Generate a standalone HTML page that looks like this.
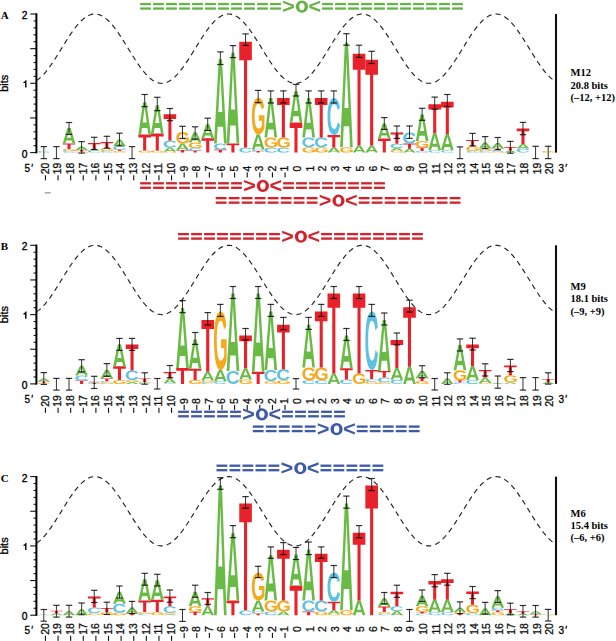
<!DOCTYPE html><html><head><meta charset="utf-8"><style>html,body{margin:0;padding:0;background:#fff;overflow:hidden}svg{display:block}</style></head><body>
<svg width="616" height="641" viewBox="0 0 616 641">
<defs>
<path id="gA" d="M787.5 1000 716.3 800H285.9L214.7 1000H0L374.1 0H627.4L1000 1000ZM500.7 154 496.4 169.6Q489.1 195.2 478.9 227.8Q468.7 260.5 340.8 625H661.6L547.3 299.5L516 203Z"/>
<path id="gC" d="M531 840Q730.4 840 808.1 655.2L1000 722.1Q938 862.8 818.1 931.4Q698.3 1000 531 1000Q277.1 1000 138.5 867.2Q0 734.5 0 495.9Q0 256.6 133.7 128.3Q267.4 0 521.3 0Q706.5 0 823 68.6Q939.5 137.2 986.6 270.3L792.4 319.3Q767.7 246.2 695.7 203.1Q623.6 160 525.8 160Q376.4 160 299.1 245.5Q221.8 331 221.8 495.9Q221.8 663.4 301.3 751.7Q380.9 840 531 840Z"/>
<path id="gG" d="M522.4 840.7Q605.6 840.7 683.8 817.6Q761.9 794.5 804.6 758.6V624.1H555.7V473.8H1000V831Q919 910.3 789.1 955.2Q659.2 1000 516.6 1000Q267.7 1000 133.9 868.6Q0 737.2 0 495.9Q0 255.9 134.6 127.9Q269.2 0 521.7 0Q880.6 0 978.3 253.1L781.5 309.7Q749.6 235.9 681.6 197.9Q613.6 160 521.7 160Q371.2 160 293.1 246.9Q214.9 333.8 214.9 495.9Q214.9 660.7 295.6 750.7Q376.3 840.7 522.4 840.7Z"/>
<path id="gT" d="M621.9 176V1000H377.3V176H0V0H1000V176Z"/>
<path id="gGT" d="M0 1000V794.4L810.1 500.9L0 206.5V0L1000 354.2V645.8Z"/><path id="gLT" d="M0 645.8V354.2L1000 0V206.5L188.9 500.9L1000 794.4V1000Z"/><path id="gO" d="M1000 495.9Q1000 647.6 938.9 762.8Q877.7 877.9 763.9 939Q650 1000 498.2 1000Q264.9 1000 132.5 865.2Q0 730.3 0 495.9Q0 262.1 132.1 131Q264.2 0 499.6 0Q735.1 0 867.5 132.4Q1000 264.8 1000 495.9ZM788.5 495.9Q788.5 338.6 712.6 249.3Q636.7 160 499.6 160Q360.5 160 284.6 248.6Q208.7 337.2 208.7 495.9Q208.7 655.9 286.4 747.9Q364 840 498.2 840Q637.4 840 712.9 750.3Q788.5 660.7 788.5 495.9Z"/>
</defs>
<text x="0.8" y="18.9" font-family="Liberation Serif, serif" font-weight="bold" font-size="11">A</text>
<g stroke="#111" stroke-width="1.1">
<line x1="30.2" y1="152.60" x2="37" y2="152.60"/>
<line x1="33.6" y1="145.67" x2="37" y2="145.67"/>
<line x1="33.6" y1="138.74" x2="37" y2="138.74"/>
<line x1="33.6" y1="131.81" x2="37" y2="131.81"/>
<line x1="33.6" y1="124.88" x2="37" y2="124.88"/>
<line x1="30.2" y1="117.95" x2="37" y2="117.95"/>
<line x1="33.6" y1="111.02" x2="37" y2="111.02"/>
<line x1="33.6" y1="104.09" x2="37" y2="104.09"/>
<line x1="33.6" y1="97.16" x2="37" y2="97.16"/>
<line x1="33.6" y1="90.23" x2="37" y2="90.23"/>
<line x1="30.2" y1="83.30" x2="37" y2="83.30"/>
<line x1="33.6" y1="76.37" x2="37" y2="76.37"/>
<line x1="33.6" y1="69.44" x2="37" y2="69.44"/>
<line x1="33.6" y1="62.51" x2="37" y2="62.51"/>
<line x1="33.6" y1="55.58" x2="37" y2="55.58"/>
<line x1="30.2" y1="48.65" x2="37" y2="48.65"/>
<line x1="33.6" y1="41.72" x2="37" y2="41.72"/>
<line x1="33.6" y1="34.79" x2="37" y2="34.79"/>
<line x1="33.6" y1="27.86" x2="37" y2="27.86"/>
<line x1="33.6" y1="20.93" x2="37" y2="20.93"/>
<line x1="30.2" y1="14.00" x2="37" y2="14.00"/>
</g>
<line x1="36.4" y1="13.40" x2="36.4" y2="153.20" stroke="#000" stroke-width="2"/>
<path d="M26.5,87.40V80.30H25.5Q25.1,81.90 23.4,82.10V83.10H25.1V87.40Z" fill="#000"/>
<text x="27.4" y="157.60" text-anchor="end" font-family="Liberation Sans, sans-serif" font-size="10.3" stroke="#000" stroke-width="0.35">0</text>
<text x="27.4" y="19.00" text-anchor="end" font-family="Liberation Sans, sans-serif" font-size="10.3" stroke="#000" stroke-width="0.35">2</text>
<text transform="translate(8.3,83.30) rotate(-90)" text-anchor="middle" font-family="Liberation Sans, sans-serif" font-size="11" stroke="#000" stroke-width="0.3">bits</text>
<polyline points="36.6,80.51 37.6,79.83 38.6,79.09 39.6,78.28 40.6,77.40 41.6,76.46 42.6,75.46 43.6,74.40 44.6,73.28 45.6,72.11 46.6,70.88 47.6,69.61 48.6,68.29 49.6,66.93 50.6,65.53 51.6,64.09 52.6,62.61 53.6,61.11 54.6,59.57 55.6,58.02 56.6,56.44 57.6,54.85 58.6,53.24 59.6,51.62 60.6,49.99 61.6,48.37 62.6,46.74 63.6,45.11 64.6,43.50 65.6,41.90 66.6,40.31 67.6,38.74 68.6,37.19 69.6,35.66 70.6,34.17 71.6,32.71 72.6,31.28 73.6,29.89 74.6,28.54 75.6,27.24 76.6,25.98 77.6,24.78 78.6,23.62 79.6,22.52 80.6,21.48 81.6,20.50 82.6,19.58 83.6,18.73 84.6,17.94 85.6,17.22 86.6,16.57 87.6,15.99 88.6,15.48 89.6,15.05 90.6,14.69 91.6,14.40 92.6,14.19 93.6,14.06 94.6,14.00 95.6,14.02 96.6,14.12 97.6,14.29 98.6,14.54 99.6,14.86 100.6,15.26 101.6,15.73 102.6,16.27 103.6,16.89 104.6,17.57 105.6,18.33 106.6,19.15 107.6,20.04 108.6,20.99 109.6,22.00 110.6,23.07 111.6,24.19 112.6,25.37 113.6,26.60 114.6,27.88 115.6,29.21 116.6,30.58 117.6,31.99 118.6,33.43 119.6,34.91 120.6,36.42 121.6,37.96 122.6,39.52 123.6,41.10 124.6,42.70 125.6,44.31 126.6,45.93 127.6,47.55 128.6,49.18 129.6,50.81 130.6,52.43 131.6,54.04 132.6,55.64 133.6,57.23 134.6,58.80 135.6,60.34 136.6,61.86 137.6,63.35 138.6,64.81 139.6,66.23 140.6,67.62 141.6,68.96 142.6,70.25 143.6,71.50 144.6,72.70 145.6,73.85 146.6,74.94 147.6,75.97 148.6,76.94 149.6,77.85 150.6,78.69 151.6,79.47 152.6,80.18 153.6,80.82 154.6,81.39 155.6,81.89 156.6,82.31 157.6,82.66 158.6,82.93 159.6,83.13 160.6,83.25 161.6,83.30 162.6,83.27 163.6,83.16 164.6,82.98 165.6,82.72 166.6,82.39 167.6,81.98 168.6,81.49 169.6,80.94 170.6,80.31 171.6,79.62 172.6,78.85 173.6,78.02 174.6,77.13 175.6,76.17 176.6,75.15 177.6,74.07 178.6,72.93 179.6,71.75 180.6,70.51 181.6,69.22 182.6,67.89 183.6,66.51 184.6,65.10 185.6,63.65 186.6,62.16 187.6,60.65 188.6,59.11 189.6,57.55 190.6,55.96 191.6,54.36 192.6,52.75 193.6,51.13 194.6,49.50 195.6,47.88 196.6,46.25 197.6,44.63 198.6,43.02 199.6,41.42 200.6,39.83 201.6,38.27 202.6,36.73 203.6,35.21 204.6,33.73 205.6,32.27 206.6,30.86 207.6,29.48 208.6,28.15 209.6,26.86 210.6,25.61 211.6,24.42 212.6,23.29 213.6,22.21 214.6,21.18 215.6,20.22 216.6,19.32 217.6,18.49 218.6,17.72 219.6,17.02 220.6,16.39 221.6,15.83 222.6,15.35 223.6,14.93 224.6,14.60 225.6,14.33 226.6,14.15 227.6,14.03 228.6,14.00 229.6,14.04 230.6,14.16 231.6,14.36 232.6,14.63 233.6,14.97 234.6,15.39 235.6,15.88 236.6,16.45 237.6,17.09 238.6,17.79 239.6,18.57 240.6,19.41 241.6,20.31 242.6,21.28 243.6,22.31 244.6,23.40 245.6,24.54 246.6,25.74 247.6,26.98 248.6,28.28 249.6,29.62 250.6,31.00 251.6,32.42 252.6,33.87 253.6,35.36 254.6,36.88 255.6,38.42 256.6,39.99 257.6,41.58 258.6,43.18 259.6,44.79 260.6,46.41 261.6,48.04 262.6,49.67 263.6,51.29 264.6,52.91 265.6,54.52 266.6,56.12 267.6,57.70 268.6,59.26 269.6,60.80 270.6,62.31 271.6,63.79 272.6,65.24 273.6,66.65 274.6,68.02 275.6,69.35 276.6,70.63 277.6,71.87 278.6,73.05 279.6,74.18 280.6,75.25 281.6,76.27 282.6,77.22 283.6,78.11 284.6,78.93 285.6,79.69 286.6,80.38 287.6,81.00 288.6,81.55 289.6,82.02 290.6,82.42 291.6,82.75 292.6,83.00 293.6,83.18 294.6,83.28 295.6,83.30 296.6,83.24 297.6,83.11 298.6,82.91 299.6,82.63 300.6,82.27 301.6,81.84 302.6,81.34 303.6,80.76 304.6,80.11 305.6,79.39 306.6,78.61 307.6,77.76 308.6,76.84 309.6,75.87 310.6,74.83 311.6,73.73 312.6,72.58 313.6,71.38 314.6,70.13 315.6,68.83 316.6,67.48 317.6,66.09 318.6,64.67 319.6,63.21 320.6,61.71 321.6,60.19 322.6,58.64 323.6,57.07 324.6,55.48 325.6,53.88 326.6,52.27 327.6,50.64 328.6,49.02 329.6,47.39 330.6,45.76 331.6,44.14 332.6,42.54 333.6,40.94 334.6,39.36 335.6,37.80 336.6,36.27 337.6,34.76 338.6,33.29 339.6,31.84 340.6,30.44 341.6,29.07 342.6,27.75 343.6,26.48 344.6,25.25 345.6,24.08 346.6,22.96 347.6,21.89 348.6,20.89 349.6,19.94 350.6,19.06 351.6,18.25 352.6,17.50 353.6,16.82 354.6,16.22 355.6,15.68 356.6,15.21 357.6,14.82 358.6,14.51 359.6,14.27 360.6,14.10 361.6,14.02 362.6,14.00 363.6,14.07 364.6,14.21 365.6,14.43 366.6,14.72 367.6,15.09 368.6,15.53 369.6,16.05 370.6,16.63 371.6,17.29 372.6,18.02 373.6,18.81 374.6,19.67 375.6,20.60 376.6,21.58 377.6,22.63 378.6,23.73 379.6,24.89 380.6,26.10 381.6,27.37 382.6,28.67 383.6,30.03 384.6,31.42 385.6,32.85 386.6,34.32 387.6,35.81 388.6,37.34 389.6,38.89 390.6,40.46 391.6,42.05 392.6,43.66 393.6,45.28 394.6,46.90 395.6,48.53 396.6,50.16 397.6,51.78 398.6,53.40 399.6,55.01 400.6,56.60 401.6,58.17 402.6,59.73 403.6,61.26 404.6,62.76 405.6,64.23 406.6,65.67 407.6,67.07 408.6,68.43 409.6,69.74 410.6,71.01 411.6,72.23 412.6,73.39 413.6,74.51 414.6,75.56 415.6,76.56 416.6,77.49 417.6,78.36 418.6,79.17 419.6,79.90 420.6,80.57 421.6,81.17 422.6,81.70 423.6,82.15 424.6,82.53 425.6,82.83 426.6,83.06 427.6,83.21 428.6,83.29 429.6,83.29 430.6,83.21 431.6,83.06 432.6,82.83 433.6,82.53 434.6,82.15 435.6,81.70 436.6,81.17 437.6,80.57 438.6,79.90 439.6,79.17 440.6,78.36 441.6,77.49 442.6,76.56 443.6,75.56 444.6,74.51 445.6,73.39 446.6,72.23 447.6,71.01 448.6,69.74 449.6,68.43 450.6,67.07 451.6,65.67 452.6,64.23 453.6,62.76 454.6,61.26 455.6,59.73 456.6,58.17 457.6,56.60 458.6,55.01 459.6,53.40 460.6,51.78 461.6,50.16 462.6,48.53 463.6,46.90 464.6,45.28 465.6,43.66 466.6,42.05 467.6,40.46 468.6,38.89 469.6,37.34 470.6,35.81 471.6,34.32 472.6,32.85 473.6,31.42 474.6,30.03 475.6,28.67 476.6,27.37 477.6,26.10 478.6,24.89 479.6,23.73 480.6,22.63 481.6,21.58 482.6,20.60 483.6,19.67 484.6,18.81 485.6,18.02 486.6,17.29 487.6,16.63 488.6,16.05 489.6,15.53 490.6,15.09 491.6,14.72 492.6,14.43 493.6,14.21 494.6,14.07 495.6,14.00 496.6,14.02 497.6,14.10 498.6,14.27 499.6,14.51 500.6,14.82 501.6,15.21 502.6,15.68 503.6,16.22 504.6,16.82 505.6,17.50 506.6,18.25 507.6,19.06 508.6,19.94 509.6,20.89 510.6,21.89 511.6,22.96 512.6,24.08 513.6,25.25 514.6,26.48 515.6,27.75 516.6,29.07 517.6,30.44 518.6,31.84 519.6,33.29 520.6,34.76 521.6,36.27 522.6,37.80 523.6,39.36 524.6,40.94 525.6,42.54 526.6,44.14 527.6,45.76 528.6,47.39 529.6,49.02 530.6,50.64 531.6,52.27 532.6,53.88 533.6,55.48 534.6,57.07 535.6,58.64 536.6,60.19 537.6,61.71 538.6,63.21 539.6,64.67 540.6,66.09 541.6,67.48 542.6,68.83 543.6,70.13 544.6,71.38 545.6,72.58 546.6,73.73 547.6,74.83 548.6,75.87 549.6,76.84 550.6,77.76 551.6,78.61 552.6,79.39 553.6,80.11 554.6,80.76 555.6,81.34" fill="none" stroke="#222" stroke-width="1.15" stroke-dasharray="5.2 4.1"/>
<use href="#gC" fill="#5fc1e2" transform="translate(37.50,151.10) scale(0.01260,0.00150)"/>
<use href="#gC" fill="#5fc1e2" transform="translate(62.72,151.10) scale(0.01260,0.00150)"/>
<use href="#gG" fill="#f5a91e" transform="translate(62.72,149.10) scale(0.01260,0.00200)"/>
<use href="#gT" fill="#e8222a" transform="translate(62.72,143.60) scale(0.01260,0.00550)"/>
<use href="#gA" fill="#69bb45" transform="translate(62.72,128.10) scale(0.01260,0.01550)"/>
<use href="#gG" fill="#f5a91e" transform="translate(75.33,151.60) scale(0.01260,0.00100)"/>
<use href="#gT" fill="#e8222a" transform="translate(75.33,150.10) scale(0.01260,0.00150)"/>
<use href="#gA" fill="#69bb45" transform="translate(75.33,146.60) scale(0.01260,0.00350)"/>
<use href="#gC" fill="#5fc1e2" transform="translate(87.94,150.60) scale(0.01260,0.00200)"/>
<use href="#gA" fill="#69bb45" transform="translate(87.94,149.10) scale(0.01260,0.00150)"/>
<use href="#gT" fill="#e8222a" transform="translate(87.94,143.10) scale(0.01260,0.00600)"/>
<use href="#gC" fill="#5fc1e2" transform="translate(100.55,151.10) scale(0.01260,0.00150)"/>
<use href="#gG" fill="#f5a91e" transform="translate(100.55,148.10) scale(0.01260,0.00300)"/>
<use href="#gT" fill="#e8222a" transform="translate(100.55,142.10) scale(0.01260,0.00600)"/>
<use href="#gG" fill="#f5a91e" transform="translate(113.16,151.10) scale(0.01260,0.00150)"/>
<use href="#gT" fill="#e8222a" transform="translate(113.16,149.60) scale(0.01260,0.00150)"/>
<use href="#gC" fill="#5fc1e2" transform="translate(113.16,146.10) scale(0.01260,0.00350)"/>
<use href="#gA" fill="#69bb45" transform="translate(113.16,139.60) scale(0.01260,0.00650)"/>
<use href="#gG" fill="#f5a91e" transform="translate(138.38,150.60) scale(0.01260,0.00200)"/>
<use href="#gT" fill="#e8222a" transform="translate(138.38,134.60) scale(0.01260,0.01600)"/>
<use href="#gA" fill="#69bb45" transform="translate(138.38,102.20) scale(0.01260,0.03240)"/>
<use href="#gG" fill="#f5a91e" transform="translate(150.99,150.60) scale(0.01260,0.00200)"/>
<use href="#gT" fill="#e8222a" transform="translate(150.99,133.60) scale(0.01260,0.01700)"/>
<use href="#gA" fill="#69bb45" transform="translate(150.99,105.20) scale(0.01260,0.02840)"/>
<use href="#gG" fill="#f5a91e" transform="translate(163.60,151.60) scale(0.01260,0.00100)"/>
<use href="#gA" fill="#69bb45" transform="translate(163.60,147.60) scale(0.01260,0.00400)"/>
<use href="#gC" fill="#5fc1e2" transform="translate(163.60,140.60) scale(0.01260,0.00700)"/>
<use href="#gT" fill="#e8222a" transform="translate(163.60,114.30) scale(0.01260,0.02630)"/>
<use href="#gT" fill="#e8222a" transform="translate(176.21,150.10) scale(0.01260,0.00250)"/>
<use href="#gA" fill="#69bb45" transform="translate(176.21,143.60) scale(0.01260,0.00650)"/>
<use href="#gG" fill="#f5a91e" transform="translate(176.21,132.10) scale(0.01260,0.01150)"/>
<use href="#gT" fill="#e8222a" transform="translate(188.82,150.60) scale(0.01260,0.00200)"/>
<use href="#gC" fill="#5fc1e2" transform="translate(188.82,148.10) scale(0.01260,0.00250)"/>
<use href="#gG" fill="#f5a91e" transform="translate(188.82,142.60) scale(0.01260,0.00550)"/>
<use href="#gA" fill="#69bb45" transform="translate(188.82,132.60) scale(0.01260,0.01000)"/>
<use href="#gT" fill="#e8222a" transform="translate(201.43,138.30) scale(0.01260,0.01430)"/>
<use href="#gA" fill="#69bb45" transform="translate(201.43,124.30) scale(0.01260,0.01400)"/>
<use href="#gT" fill="#e8222a" transform="translate(214.04,149.60) scale(0.01260,0.00300)"/>
<use href="#gC" fill="#5fc1e2" transform="translate(214.04,143.60) scale(0.01260,0.00600)"/>
<use href="#gA" fill="#69bb45" transform="translate(214.04,59.30) scale(0.01260,0.08430)"/>
<use href="#gT" fill="#e8222a" transform="translate(226.65,143.60) scale(0.01260,0.00900)"/>
<use href="#gA" fill="#69bb45" transform="translate(226.65,52.70) scale(0.01260,0.09090)"/>
<use href="#gC" fill="#5fc1e2" transform="translate(239.26,147.60) scale(0.01260,0.00500)"/>
<use href="#gT" fill="#e8222a" transform="translate(239.26,41.70) scale(0.01260,0.10590)"/>
<use href="#gT" fill="#e8222a" transform="translate(251.87,151.10) scale(0.01260,0.00150)"/>
<use href="#gC" fill="#5fc1e2" transform="translate(251.87,149.60) scale(0.01260,0.00150)"/>
<use href="#gA" fill="#69bb45" transform="translate(251.87,134.40) scale(0.01260,0.01520)"/>
<use href="#gG" fill="#f5a91e" transform="translate(251.87,98.00) scale(0.01260,0.03640)"/>
<use href="#gC" fill="#5fc1e2" transform="translate(264.48,147.60) scale(0.01260,0.00500)"/>
<use href="#gG" fill="#f5a91e" transform="translate(264.48,137.50) scale(0.01260,0.01010)"/>
<use href="#gA" fill="#69bb45" transform="translate(264.48,98.10) scale(0.01260,0.03940)"/>
<use href="#gC" fill="#5fc1e2" transform="translate(277.09,147.60) scale(0.01260,0.00500)"/>
<use href="#gG" fill="#f5a91e" transform="translate(277.09,137.50) scale(0.01260,0.01010)"/>
<use href="#gT" fill="#e8222a" transform="translate(277.09,98.10) scale(0.01260,0.03940)"/>
<use href="#gT" fill="#e8222a" transform="translate(289.70,122.60) scale(0.01260,0.03000)"/>
<use href="#gA" fill="#69bb45" transform="translate(289.70,91.20) scale(0.01260,0.03140)"/>
<use href="#gG" fill="#f5a91e" transform="translate(302.31,147.20) scale(0.01260,0.00540)"/>
<use href="#gC" fill="#5fc1e2" transform="translate(302.31,137.50) scale(0.01260,0.00970)"/>
<use href="#gA" fill="#69bb45" transform="translate(302.31,98.10) scale(0.01260,0.03940)"/>
<use href="#gG" fill="#f5a91e" transform="translate(314.92,147.20) scale(0.01260,0.00540)"/>
<use href="#gC" fill="#5fc1e2" transform="translate(314.92,137.50) scale(0.01260,0.00970)"/>
<use href="#gT" fill="#e8222a" transform="translate(314.92,98.10) scale(0.01260,0.03940)"/>
<use href="#gA" fill="#69bb45" transform="translate(327.53,147.60) scale(0.01260,0.00500)"/>
<use href="#gT" fill="#e8222a" transform="translate(327.53,135.00) scale(0.01260,0.01260)"/>
<use href="#gC" fill="#5fc1e2" transform="translate(327.53,98.10) scale(0.01260,0.03690)"/>
<use href="#gG" fill="#f5a91e" transform="translate(340.14,147.20) scale(0.01260,0.00540)"/>
<use href="#gA" fill="#69bb45" transform="translate(340.14,42.80) scale(0.01260,0.10440)"/>
<use href="#gA" fill="#69bb45" transform="translate(352.75,145.60) scale(0.01260,0.00700)"/>
<use href="#gT" fill="#e8222a" transform="translate(352.75,53.70) scale(0.01260,0.09190)"/>
<use href="#gA" fill="#69bb45" transform="translate(365.36,145.60) scale(0.01260,0.00700)"/>
<use href="#gT" fill="#e8222a" transform="translate(365.36,59.70) scale(0.01260,0.08590)"/>
<use href="#gT" fill="#e8222a" transform="translate(377.97,138.60) scale(0.01260,0.01400)"/>
<use href="#gA" fill="#69bb45" transform="translate(377.97,123.40) scale(0.01260,0.01520)"/>
<use href="#gG" fill="#f5a91e" transform="translate(390.58,150.60) scale(0.01260,0.00200)"/>
<use href="#gA" fill="#69bb45" transform="translate(390.58,148.10) scale(0.01260,0.00250)"/>
<use href="#gC" fill="#5fc1e2" transform="translate(390.58,143.70) scale(0.01260,0.00440)"/>
<use href="#gT" fill="#e8222a" transform="translate(390.58,132.50) scale(0.01260,0.01120)"/>
<use href="#gA" fill="#69bb45" transform="translate(403.19,148.80) scale(0.01260,0.00380)"/>
<use href="#gT" fill="#e8222a" transform="translate(403.19,143.60) scale(0.01260,0.00520)"/>
<use href="#gC" fill="#5fc1e2" transform="translate(403.19,132.60) scale(0.01260,0.01100)"/>
<use href="#gC" fill="#5fc1e2" transform="translate(415.80,151.00) scale(0.01260,0.00160)"/>
<use href="#gT" fill="#e8222a" transform="translate(415.80,147.50) scale(0.01260,0.00350)"/>
<use href="#gG" fill="#f5a91e" transform="translate(415.80,141.00) scale(0.01260,0.00650)"/>
<use href="#gA" fill="#69bb45" transform="translate(415.80,114.40) scale(0.01260,0.02660)"/>
<use href="#gC" fill="#5fc1e2" transform="translate(428.41,150.10) scale(0.01260,0.00250)"/>
<use href="#gA" fill="#69bb45" transform="translate(428.41,133.20) scale(0.01260,0.01690)"/>
<use href="#gT" fill="#e8222a" transform="translate(428.41,104.30) scale(0.01260,0.02890)"/>
<use href="#gC" fill="#5fc1e2" transform="translate(441.02,150.10) scale(0.01260,0.00250)"/>
<use href="#gA" fill="#69bb45" transform="translate(441.02,134.00) scale(0.01260,0.01610)"/>
<use href="#gT" fill="#e8222a" transform="translate(441.02,101.70) scale(0.01260,0.03230)"/>
<use href="#gC" fill="#5fc1e2" transform="translate(466.24,151.10) scale(0.01260,0.00150)"/>
<use href="#gG" fill="#f5a91e" transform="translate(466.24,146.30) scale(0.01260,0.00480)"/>
<use href="#gT" fill="#e8222a" transform="translate(466.24,140.00) scale(0.01260,0.00630)"/>
<use href="#gC" fill="#5fc1e2" transform="translate(478.85,151.10) scale(0.01260,0.00150)"/>
<use href="#gG" fill="#f5a91e" transform="translate(478.85,148.60) scale(0.01260,0.00250)"/>
<use href="#gA" fill="#69bb45" transform="translate(478.85,142.60) scale(0.01260,0.00600)"/>
<use href="#gG" fill="#f5a91e" transform="translate(491.46,151.60) scale(0.01260,0.00100)"/>
<use href="#gC" fill="#5fc1e2" transform="translate(491.46,150.10) scale(0.01260,0.00150)"/>
<use href="#gT" fill="#e8222a" transform="translate(491.46,148.40) scale(0.01260,0.00170)"/>
<use href="#gA" fill="#69bb45" transform="translate(491.46,143.00) scale(0.01260,0.00540)"/>
<use href="#gA" fill="#69bb45" transform="translate(504.07,150.60) scale(0.01260,0.00200)"/>
<use href="#gT" fill="#e8222a" transform="translate(504.07,147.00) scale(0.01260,0.00360)"/>
<use href="#gC" fill="#5fc1e2" transform="translate(516.68,148.60) scale(0.01260,0.00400)"/>
<use href="#gA" fill="#69bb45" transform="translate(516.68,144.00) scale(0.01260,0.00460)"/>
<use href="#gT" fill="#e8222a" transform="translate(516.68,128.50) scale(0.01260,0.01550)"/>
<use href="#gG" fill="#f5a91e" transform="translate(541.90,151.10) scale(0.01260,0.00150)"/>
<g stroke="#000" stroke-opacity="0.8" stroke-width="1">
<line x1="43.80" y1="146.60" x2="43.80" y2="158.60"/>
<line x1="40.60" y1="146.60" x2="47.00" y2="146.60" stroke-width="1.2"/>
<line x1="40.60" y1="158.60" x2="47.00" y2="158.60" stroke-width="1.2"/>
<line x1="56.41" y1="146.60" x2="56.41" y2="158.60"/>
<line x1="53.21" y1="146.60" x2="59.61" y2="146.60" stroke-width="1.2"/>
<line x1="53.21" y1="158.60" x2="59.61" y2="158.60" stroke-width="1.2"/>
<line x1="69.02" y1="122.50" x2="69.02" y2="134.40"/>
<line x1="65.82" y1="122.50" x2="72.22" y2="122.50" stroke-width="1.2"/>
<line x1="65.82" y1="134.40" x2="72.22" y2="134.40" stroke-width="1.2"/>
<line x1="81.63" y1="141.60" x2="81.63" y2="153.10"/>
<line x1="78.43" y1="141.60" x2="84.83" y2="141.60" stroke-width="1.2"/>
<line x1="78.43" y1="153.10" x2="84.83" y2="153.10" stroke-width="1.2"/>
<line x1="94.24" y1="137.30" x2="94.24" y2="149.50"/>
<line x1="91.04" y1="137.30" x2="97.44" y2="137.30" stroke-width="1.2"/>
<line x1="91.04" y1="149.50" x2="97.44" y2="149.50" stroke-width="1.2"/>
<line x1="106.85" y1="136.30" x2="106.85" y2="148.20"/>
<line x1="103.65" y1="136.30" x2="110.05" y2="136.30" stroke-width="1.2"/>
<line x1="103.65" y1="148.20" x2="110.05" y2="148.20" stroke-width="1.2"/>
<line x1="119.46" y1="133.20" x2="119.46" y2="145.70"/>
<line x1="116.26" y1="133.20" x2="122.66" y2="133.20" stroke-width="1.2"/>
<line x1="116.26" y1="145.70" x2="122.66" y2="145.70" stroke-width="1.2"/>
<line x1="132.07" y1="146.60" x2="132.07" y2="158.60"/>
<line x1="128.87" y1="146.60" x2="135.27" y2="146.60" stroke-width="1.2"/>
<line x1="128.87" y1="158.60" x2="135.27" y2="158.60" stroke-width="1.2"/>
<line x1="144.68" y1="94.50" x2="144.68" y2="106.70"/>
<line x1="141.48" y1="94.50" x2="147.88" y2="94.50" stroke-width="1.2"/>
<line x1="141.48" y1="106.70" x2="147.88" y2="106.70" stroke-width="1.2"/>
<line x1="157.29" y1="97.30" x2="157.29" y2="110.70"/>
<line x1="154.09" y1="97.30" x2="160.49" y2="97.30" stroke-width="1.2"/>
<line x1="154.09" y1="110.70" x2="160.49" y2="110.70" stroke-width="1.2"/>
<line x1="169.90" y1="108.50" x2="169.90" y2="120.70"/>
<line x1="166.70" y1="108.50" x2="173.10" y2="108.50" stroke-width="1.2"/>
<line x1="166.70" y1="120.70" x2="173.10" y2="120.70" stroke-width="1.2"/>
<line x1="182.51" y1="126.30" x2="182.51" y2="138.50"/>
<line x1="179.31" y1="126.30" x2="185.71" y2="126.30" stroke-width="1.2"/>
<line x1="179.31" y1="138.50" x2="185.71" y2="138.50" stroke-width="1.2"/>
<line x1="195.12" y1="126.80" x2="195.12" y2="139.00"/>
<line x1="191.92" y1="126.80" x2="198.32" y2="126.80" stroke-width="1.2"/>
<line x1="191.92" y1="139.00" x2="198.32" y2="139.00" stroke-width="1.2"/>
<line x1="207.73" y1="118.20" x2="207.73" y2="130.40"/>
<line x1="204.53" y1="118.20" x2="210.93" y2="118.20" stroke-width="1.2"/>
<line x1="204.53" y1="130.40" x2="210.93" y2="130.40" stroke-width="1.2"/>
<line x1="220.34" y1="51.90" x2="220.34" y2="64.50"/>
<line x1="217.14" y1="51.90" x2="223.54" y2="51.90" stroke-width="1.2"/>
<line x1="217.14" y1="64.50" x2="223.54" y2="64.50" stroke-width="1.2"/>
<line x1="232.95" y1="45.60" x2="232.95" y2="57.60"/>
<line x1="229.75" y1="45.60" x2="236.15" y2="45.60" stroke-width="1.2"/>
<line x1="229.75" y1="57.60" x2="236.15" y2="57.60" stroke-width="1.2"/>
<line x1="245.56" y1="33.90" x2="245.56" y2="45.40"/>
<line x1="242.36" y1="33.90" x2="248.76" y2="33.90" stroke-width="1.2"/>
<line x1="242.36" y1="45.40" x2="248.76" y2="45.40" stroke-width="1.2"/>
<line x1="258.17" y1="90.40" x2="258.17" y2="102.60"/>
<line x1="254.97" y1="90.40" x2="261.37" y2="90.40" stroke-width="1.2"/>
<line x1="254.97" y1="102.60" x2="261.37" y2="102.60" stroke-width="1.2"/>
<line x1="270.78" y1="90.90" x2="270.78" y2="103.00"/>
<line x1="267.58" y1="90.90" x2="273.98" y2="90.90" stroke-width="1.2"/>
<line x1="267.58" y1="103.00" x2="273.98" y2="103.00" stroke-width="1.2"/>
<line x1="283.39" y1="90.90" x2="283.39" y2="103.00"/>
<line x1="280.19" y1="90.90" x2="286.59" y2="90.90" stroke-width="1.2"/>
<line x1="280.19" y1="103.00" x2="286.59" y2="103.00" stroke-width="1.2"/>
<line x1="296.00" y1="84.40" x2="296.00" y2="96.00"/>
<line x1="292.80" y1="84.40" x2="299.20" y2="84.40" stroke-width="1.2"/>
<line x1="292.80" y1="96.00" x2="299.20" y2="96.00" stroke-width="1.2"/>
<line x1="308.61" y1="90.90" x2="308.61" y2="103.00"/>
<line x1="305.41" y1="90.90" x2="311.81" y2="90.90" stroke-width="1.2"/>
<line x1="305.41" y1="103.00" x2="311.81" y2="103.00" stroke-width="1.2"/>
<line x1="321.22" y1="90.90" x2="321.22" y2="103.00"/>
<line x1="318.02" y1="90.90" x2="324.42" y2="90.90" stroke-width="1.2"/>
<line x1="318.02" y1="103.00" x2="324.42" y2="103.00" stroke-width="1.2"/>
<line x1="333.83" y1="90.90" x2="333.83" y2="103.00"/>
<line x1="330.63" y1="90.90" x2="337.03" y2="90.90" stroke-width="1.2"/>
<line x1="330.63" y1="103.00" x2="337.03" y2="103.00" stroke-width="1.2"/>
<line x1="346.44" y1="33.70" x2="346.44" y2="45.20"/>
<line x1="343.24" y1="33.70" x2="349.64" y2="33.70" stroke-width="1.2"/>
<line x1="343.24" y1="45.20" x2="349.64" y2="45.20" stroke-width="1.2"/>
<line x1="359.05" y1="45.20" x2="359.05" y2="57.40"/>
<line x1="355.85" y1="45.20" x2="362.25" y2="45.20" stroke-width="1.2"/>
<line x1="355.85" y1="57.40" x2="362.25" y2="57.40" stroke-width="1.2"/>
<line x1="371.66" y1="51.30" x2="371.66" y2="63.50"/>
<line x1="368.46" y1="51.30" x2="374.86" y2="51.30" stroke-width="1.2"/>
<line x1="368.46" y1="63.50" x2="374.86" y2="63.50" stroke-width="1.2"/>
<line x1="384.27" y1="117.60" x2="384.27" y2="129.40"/>
<line x1="381.07" y1="117.60" x2="387.47" y2="117.60" stroke-width="1.2"/>
<line x1="381.07" y1="129.40" x2="387.47" y2="129.40" stroke-width="1.2"/>
<line x1="396.88" y1="126.00" x2="396.88" y2="138.40"/>
<line x1="393.68" y1="126.00" x2="400.08" y2="126.00" stroke-width="1.2"/>
<line x1="393.68" y1="138.40" x2="400.08" y2="138.40" stroke-width="1.2"/>
<line x1="409.49" y1="126.00" x2="409.49" y2="138.40"/>
<line x1="406.29" y1="126.00" x2="412.69" y2="126.00" stroke-width="1.2"/>
<line x1="406.29" y1="138.40" x2="412.69" y2="138.40" stroke-width="1.2"/>
<line x1="422.10" y1="108.30" x2="422.10" y2="120.30"/>
<line x1="418.90" y1="108.30" x2="425.30" y2="108.30" stroke-width="1.2"/>
<line x1="418.90" y1="120.30" x2="425.30" y2="120.30" stroke-width="1.2"/>
<line x1="434.71" y1="97.10" x2="434.71" y2="109.20"/>
<line x1="431.51" y1="97.10" x2="437.91" y2="97.10" stroke-width="1.2"/>
<line x1="431.51" y1="109.20" x2="437.91" y2="109.20" stroke-width="1.2"/>
<line x1="447.32" y1="94.50" x2="447.32" y2="106.60"/>
<line x1="444.12" y1="94.50" x2="450.52" y2="94.50" stroke-width="1.2"/>
<line x1="444.12" y1="106.60" x2="450.52" y2="106.60" stroke-width="1.2"/>
<line x1="459.93" y1="146.90" x2="459.93" y2="158.60"/>
<line x1="456.73" y1="146.90" x2="463.13" y2="146.90" stroke-width="1.2"/>
<line x1="456.73" y1="158.60" x2="463.13" y2="158.60" stroke-width="1.2"/>
<line x1="472.54" y1="133.40" x2="472.54" y2="145.80"/>
<line x1="469.34" y1="133.40" x2="475.74" y2="133.40" stroke-width="1.2"/>
<line x1="469.34" y1="145.80" x2="475.74" y2="145.80" stroke-width="1.2"/>
<line x1="485.15" y1="136.60" x2="485.15" y2="148.60"/>
<line x1="481.95" y1="136.60" x2="488.35" y2="136.60" stroke-width="1.2"/>
<line x1="481.95" y1="148.60" x2="488.35" y2="148.60" stroke-width="1.2"/>
<line x1="497.76" y1="137.50" x2="497.76" y2="149.70"/>
<line x1="494.56" y1="137.50" x2="500.96" y2="137.50" stroke-width="1.2"/>
<line x1="494.56" y1="149.70" x2="500.96" y2="149.70" stroke-width="1.2"/>
<line x1="510.37" y1="141.40" x2="510.37" y2="153.20"/>
<line x1="507.17" y1="141.40" x2="513.57" y2="141.40" stroke-width="1.2"/>
<line x1="507.17" y1="153.20" x2="513.57" y2="153.20" stroke-width="1.2"/>
<line x1="522.98" y1="122.40" x2="522.98" y2="134.70"/>
<line x1="519.78" y1="122.40" x2="526.18" y2="122.40" stroke-width="1.2"/>
<line x1="519.78" y1="134.70" x2="526.18" y2="134.70" stroke-width="1.2"/>
<line x1="535.59" y1="146.30" x2="535.59" y2="158.60"/>
<line x1="532.39" y1="146.30" x2="538.79" y2="146.30" stroke-width="1.2"/>
<line x1="532.39" y1="158.60" x2="538.79" y2="158.60" stroke-width="1.2"/>
<line x1="548.20" y1="146.30" x2="548.20" y2="158.60"/>
<line x1="545.00" y1="146.30" x2="551.40" y2="146.30" stroke-width="1.2"/>
<line x1="545.00" y1="158.60" x2="551.40" y2="158.60" stroke-width="1.2"/>
</g>
<g font-family="Liberation Sans, sans-serif" font-size="10.4" fill="#111" stroke="#111" stroke-width="0.3">
<text transform="translate(48.80,168.50) rotate(-90)" text-anchor="middle">20</text>
<rect x="44.90" y="175.28" width="1.1" height="5.1" stroke="none"/>
<text transform="translate(61.41,168.50) rotate(-90)" text-anchor="middle">19</text>
<rect x="57.51" y="175.28" width="1.1" height="5.1" stroke="none"/>
<text transform="translate(74.02,168.50) rotate(-90)" text-anchor="middle">18</text>
<rect x="70.12" y="175.28" width="1.1" height="5.1" stroke="none"/>
<text transform="translate(86.63,168.50) rotate(-90)" text-anchor="middle">17</text>
<rect x="82.73" y="175.28" width="1.1" height="5.1" stroke="none"/>
<text transform="translate(99.24,168.50) rotate(-90)" text-anchor="middle">16</text>
<rect x="95.34" y="175.28" width="1.1" height="5.1" stroke="none"/>
<text transform="translate(111.85,168.50) rotate(-90)" text-anchor="middle">15</text>
<rect x="107.95" y="175.28" width="1.1" height="5.1" stroke="none"/>
<text transform="translate(124.46,168.50) rotate(-90)" text-anchor="middle">14</text>
<rect x="120.56" y="175.28" width="1.1" height="5.1" stroke="none"/>
<text transform="translate(137.07,168.50) rotate(-90)" text-anchor="middle">13</text>
<rect x="133.17" y="175.28" width="1.1" height="5.1" stroke="none"/>
<text transform="translate(149.68,168.50) rotate(-90)" text-anchor="middle">12</text>
<rect x="145.78" y="175.28" width="1.1" height="5.1" stroke="none"/>
<text transform="translate(162.29,168.50) rotate(-90)" text-anchor="middle">11</text>
<rect x="158.39" y="175.28" width="1.1" height="5.1" stroke="none"/>
<text transform="translate(174.90,168.50) rotate(-90)" text-anchor="middle">10</text>
<rect x="171.00" y="175.28" width="1.1" height="5.1" stroke="none"/>
<text transform="translate(187.51,168.50) rotate(-90)" text-anchor="middle">9</text>
<rect x="183.61" y="172.39" width="1.1" height="5.1" stroke="none"/>
<text transform="translate(200.12,168.50) rotate(-90)" text-anchor="middle">8</text>
<rect x="196.22" y="172.39" width="1.1" height="5.1" stroke="none"/>
<text transform="translate(212.73,168.50) rotate(-90)" text-anchor="middle">7</text>
<rect x="208.83" y="172.39" width="1.1" height="5.1" stroke="none"/>
<text transform="translate(225.34,168.50) rotate(-90)" text-anchor="middle">6</text>
<rect x="221.44" y="172.39" width="1.1" height="5.1" stroke="none"/>
<text transform="translate(237.95,168.50) rotate(-90)" text-anchor="middle">5</text>
<rect x="234.05" y="172.39" width="1.1" height="5.1" stroke="none"/>
<text transform="translate(250.56,168.50) rotate(-90)" text-anchor="middle">4</text>
<rect x="246.66" y="172.39" width="1.1" height="5.1" stroke="none"/>
<text transform="translate(263.17,168.50) rotate(-90)" text-anchor="middle">3</text>
<rect x="259.27" y="172.39" width="1.1" height="5.1" stroke="none"/>
<text transform="translate(275.78,168.50) rotate(-90)" text-anchor="middle">2</text>
<rect x="271.88" y="172.39" width="1.1" height="5.1" stroke="none"/>
<text transform="translate(288.39,168.50) rotate(-90)" text-anchor="middle">1</text>
<rect x="284.49" y="172.39" width="1.1" height="5.1" stroke="none"/>
<text transform="translate(301.00,168.50) rotate(-90)" text-anchor="middle">0</text>
<text transform="translate(313.61,168.50) rotate(-90)" text-anchor="middle">1</text>
<text transform="translate(326.22,168.50) rotate(-90)" text-anchor="middle">2</text>
<text transform="translate(338.83,168.50) rotate(-90)" text-anchor="middle">3</text>
<text transform="translate(351.44,168.50) rotate(-90)" text-anchor="middle">4</text>
<text transform="translate(364.05,168.50) rotate(-90)" text-anchor="middle">5</text>
<text transform="translate(376.66,168.50) rotate(-90)" text-anchor="middle">6</text>
<text transform="translate(389.27,168.50) rotate(-90)" text-anchor="middle">7</text>
<text transform="translate(401.88,168.50) rotate(-90)" text-anchor="middle">8</text>
<text transform="translate(414.49,168.50) rotate(-90)" text-anchor="middle">9</text>
<text transform="translate(427.10,168.50) rotate(-90)" text-anchor="middle">10</text>
<text transform="translate(439.71,168.50) rotate(-90)" text-anchor="middle">11</text>
<text transform="translate(452.32,168.50) rotate(-90)" text-anchor="middle">12</text>
<text transform="translate(464.93,168.50) rotate(-90)" text-anchor="middle">13</text>
<text transform="translate(477.54,168.50) rotate(-90)" text-anchor="middle">14</text>
<text transform="translate(490.15,168.50) rotate(-90)" text-anchor="middle">15</text>
<text transform="translate(502.76,168.50) rotate(-90)" text-anchor="middle">16</text>
<text transform="translate(515.37,168.50) rotate(-90)" text-anchor="middle">17</text>
<text transform="translate(527.98,168.50) rotate(-90)" text-anchor="middle">18</text>
<text transform="translate(540.59,168.50) rotate(-90)" text-anchor="middle">19</text>
<text transform="translate(553.20,168.50) rotate(-90)" text-anchor="middle">20</text>
</g>
<text x="24.5" y="171.60" font-family="Liberation Sans, sans-serif" font-size="10" stroke="#000" stroke-width="0.3">5<tspan dx="1.2">′</tspan></text>
<text x="558.5" y="171.60" font-family="Liberation Sans, sans-serif" font-size="10" stroke="#000" stroke-width="0.3">3<tspan dx="1.2">′</tspan></text>
<line x1="556" y1="14.00" x2="556" y2="152.60" stroke="#111" stroke-width="2.1"/>
<text x="570.5" y="76.10" font-family="Liberation Serif, serif" font-weight="bold" font-size="10.5">M12</text>
<text x="570.5" y="88.50" font-family="Liberation Serif, serif" font-weight="bold" font-size="10.5">20.8 bits</text>
<text x="570.5" y="100.90" font-family="Liberation Serif, serif" font-weight="bold" font-size="10.5">(–12, +12)</text>
<text x="0.8" y="250.2" font-family="Liberation Serif, serif" font-weight="bold" font-size="11">B</text>
<g stroke="#111" stroke-width="1.1">
<line x1="30.2" y1="383.90" x2="37" y2="383.90"/>
<line x1="33.6" y1="376.97" x2="37" y2="376.97"/>
<line x1="33.6" y1="370.04" x2="37" y2="370.04"/>
<line x1="33.6" y1="363.11" x2="37" y2="363.11"/>
<line x1="33.6" y1="356.18" x2="37" y2="356.18"/>
<line x1="30.2" y1="349.25" x2="37" y2="349.25"/>
<line x1="33.6" y1="342.32" x2="37" y2="342.32"/>
<line x1="33.6" y1="335.39" x2="37" y2="335.39"/>
<line x1="33.6" y1="328.46" x2="37" y2="328.46"/>
<line x1="33.6" y1="321.53" x2="37" y2="321.53"/>
<line x1="30.2" y1="314.60" x2="37" y2="314.60"/>
<line x1="33.6" y1="307.67" x2="37" y2="307.67"/>
<line x1="33.6" y1="300.74" x2="37" y2="300.74"/>
<line x1="33.6" y1="293.81" x2="37" y2="293.81"/>
<line x1="33.6" y1="286.88" x2="37" y2="286.88"/>
<line x1="30.2" y1="279.95" x2="37" y2="279.95"/>
<line x1="33.6" y1="273.02" x2="37" y2="273.02"/>
<line x1="33.6" y1="266.09" x2="37" y2="266.09"/>
<line x1="33.6" y1="259.16" x2="37" y2="259.16"/>
<line x1="33.6" y1="252.23" x2="37" y2="252.23"/>
<line x1="30.2" y1="245.30" x2="37" y2="245.30"/>
</g>
<line x1="36.4" y1="244.70" x2="36.4" y2="384.50" stroke="#000" stroke-width="2"/>
<path d="M26.5,318.70V311.60H25.5Q25.1,313.20 23.4,313.40V314.40H25.1V318.70Z" fill="#000"/>
<text x="27.4" y="388.90" text-anchor="end" font-family="Liberation Sans, sans-serif" font-size="10.3" stroke="#000" stroke-width="0.35">0</text>
<text x="27.4" y="250.30" text-anchor="end" font-family="Liberation Sans, sans-serif" font-size="10.3" stroke="#000" stroke-width="0.35">2</text>
<text transform="translate(8.3,314.60) rotate(-90)" text-anchor="middle" font-family="Liberation Sans, sans-serif" font-size="11" stroke="#000" stroke-width="0.3">bits</text>
<polyline points="36.6,311.81 37.6,311.13 38.6,310.39 39.6,309.58 40.6,308.70 41.6,307.76 42.6,306.76 43.6,305.70 44.6,304.58 45.6,303.41 46.6,302.18 47.6,300.91 48.6,299.59 49.6,298.23 50.6,296.83 51.6,295.39 52.6,293.91 53.6,292.41 54.6,290.87 55.6,289.32 56.6,287.74 57.6,286.15 58.6,284.54 59.6,282.92 60.6,281.29 61.6,279.67 62.6,278.04 63.6,276.41 64.6,274.80 65.6,273.20 66.6,271.61 67.6,270.04 68.6,268.49 69.6,266.96 70.6,265.47 71.6,264.01 72.6,262.58 73.6,261.19 74.6,259.84 75.6,258.54 76.6,257.28 77.6,256.08 78.6,254.92 79.6,253.82 80.6,252.78 81.6,251.80 82.6,250.88 83.6,250.03 84.6,249.24 85.6,248.52 86.6,247.87 87.6,247.29 88.6,246.78 89.6,246.35 90.6,245.99 91.6,245.70 92.6,245.49 93.6,245.36 94.6,245.30 95.6,245.32 96.6,245.42 97.6,245.59 98.6,245.84 99.6,246.16 100.6,246.56 101.6,247.03 102.6,247.57 103.6,248.19 104.6,248.87 105.6,249.63 106.6,250.45 107.6,251.34 108.6,252.29 109.6,253.30 110.6,254.37 111.6,255.49 112.6,256.67 113.6,257.90 114.6,259.18 115.6,260.51 116.6,261.88 117.6,263.29 118.6,264.73 119.6,266.21 120.6,267.72 121.6,269.26 122.6,270.82 123.6,272.40 124.6,274.00 125.6,275.61 126.6,277.23 127.6,278.85 128.6,280.48 129.6,282.11 130.6,283.73 131.6,285.34 132.6,286.94 133.6,288.53 134.6,290.10 135.6,291.64 136.6,293.16 137.6,294.65 138.6,296.11 139.6,297.53 140.6,298.92 141.6,300.26 142.6,301.55 143.6,302.80 144.6,304.00 145.6,305.15 146.6,306.24 147.6,307.27 148.6,308.24 149.6,309.15 150.6,309.99 151.6,310.77 152.6,311.48 153.6,312.12 154.6,312.69 155.6,313.19 156.6,313.61 157.6,313.96 158.6,314.23 159.6,314.43 160.6,314.55 161.6,314.60 162.6,314.57 163.6,314.46 164.6,314.28 165.6,314.02 166.6,313.69 167.6,313.28 168.6,312.79 169.6,312.24 170.6,311.61 171.6,310.92 172.6,310.15 173.6,309.32 174.6,308.43 175.6,307.47 176.6,306.45 177.6,305.37 178.6,304.23 179.6,303.05 180.6,301.81 181.6,300.52 182.6,299.19 183.6,297.81 184.6,296.40 185.6,294.95 186.6,293.46 187.6,291.95 188.6,290.41 189.6,288.85 190.6,287.26 191.6,285.66 192.6,284.05 193.6,282.43 194.6,280.80 195.6,279.18 196.6,277.55 197.6,275.93 198.6,274.32 199.6,272.72 200.6,271.13 201.6,269.57 202.6,268.03 203.6,266.51 204.6,265.03 205.6,263.57 206.6,262.16 207.6,260.78 208.6,259.45 209.6,258.16 210.6,256.91 211.6,255.72 212.6,254.59 213.6,253.51 214.6,252.48 215.6,251.52 216.6,250.62 217.6,249.79 218.6,249.02 219.6,248.32 220.6,247.69 221.6,247.13 222.6,246.65 223.6,246.23 224.6,245.90 225.6,245.63 226.6,245.45 227.6,245.33 228.6,245.30 229.6,245.34 230.6,245.46 231.6,245.66 232.6,245.93 233.6,246.27 234.6,246.69 235.6,247.18 236.6,247.75 237.6,248.39 238.6,249.09 239.6,249.87 240.6,250.71 241.6,251.61 242.6,252.58 243.6,253.61 244.6,254.70 245.6,255.84 246.6,257.04 247.6,258.28 248.6,259.58 249.6,260.92 250.6,262.30 251.6,263.72 252.6,265.17 253.6,266.66 254.6,268.18 255.6,269.72 256.6,271.29 257.6,272.88 258.6,274.48 259.6,276.09 260.6,277.71 261.6,279.34 262.6,280.97 263.6,282.59 264.6,284.21 265.6,285.82 266.6,287.42 267.6,289.00 268.6,290.56 269.6,292.10 270.6,293.61 271.6,295.09 272.6,296.54 273.6,297.95 274.6,299.32 275.6,300.65 276.6,301.93 277.6,303.17 278.6,304.35 279.6,305.48 280.6,306.55 281.6,307.57 282.6,308.52 283.6,309.41 284.6,310.23 285.6,310.99 286.6,311.68 287.6,312.30 288.6,312.85 289.6,313.32 290.6,313.72 291.6,314.05 292.6,314.30 293.6,314.48 294.6,314.58 295.6,314.60 296.6,314.54 297.6,314.41 298.6,314.21 299.6,313.93 300.6,313.57 301.6,313.14 302.6,312.64 303.6,312.06 304.6,311.41 305.6,310.69 306.6,309.91 307.6,309.06 308.6,308.14 309.6,307.17 310.6,306.13 311.6,305.03 312.6,303.88 313.6,302.68 314.6,301.43 315.6,300.13 316.6,298.78 317.6,297.39 318.6,295.97 319.6,294.51 320.6,293.01 321.6,291.49 322.6,289.94 323.6,288.37 324.6,286.78 325.6,285.18 326.6,283.57 327.6,281.94 328.6,280.32 329.6,278.69 330.6,277.06 331.6,275.44 332.6,273.84 333.6,272.24 334.6,270.66 335.6,269.10 336.6,267.57 337.6,266.06 338.6,264.59 339.6,263.14 340.6,261.74 341.6,260.37 342.6,259.05 343.6,257.78 344.6,256.55 345.6,255.38 346.6,254.26 347.6,253.19 348.6,252.19 349.6,251.24 350.6,250.36 351.6,249.55 352.6,248.80 353.6,248.12 354.6,247.52 355.6,246.98 356.6,246.51 357.6,246.12 358.6,245.81 359.6,245.57 360.6,245.40 361.6,245.32 362.6,245.30 363.6,245.37 364.6,245.51 365.6,245.73 366.6,246.02 367.6,246.39 368.6,246.83 369.6,247.35 370.6,247.93 371.6,248.59 372.6,249.32 373.6,250.11 374.6,250.97 375.6,251.90 376.6,252.88 377.6,253.93 378.6,255.03 379.6,256.19 380.6,257.40 381.6,258.67 382.6,259.97 383.6,261.33 384.6,262.72 385.6,264.15 386.6,265.62 387.6,267.11 388.6,268.64 389.6,270.19 390.6,271.76 391.6,273.35 392.6,274.96 393.6,276.58 394.6,278.20 395.6,279.83 396.6,281.46 397.6,283.08 398.6,284.70 399.6,286.31 400.6,287.90 401.6,289.47 402.6,291.03 403.6,292.56 404.6,294.06 405.6,295.53 406.6,296.97 407.6,298.37 408.6,299.73 409.6,301.04 410.6,302.31 411.6,303.53 412.6,304.69 413.6,305.81 414.6,306.86 415.6,307.86 416.6,308.79 417.6,309.66 418.6,310.47 419.6,311.20 420.6,311.87 421.6,312.47 422.6,313.00 423.6,313.45 424.6,313.83 425.6,314.13 426.6,314.36 427.6,314.51 428.6,314.59 429.6,314.59 430.6,314.51 431.6,314.36 432.6,314.13 433.6,313.83 434.6,313.45 435.6,313.00 436.6,312.47 437.6,311.87 438.6,311.20 439.6,310.47 440.6,309.66 441.6,308.79 442.6,307.86 443.6,306.86 444.6,305.81 445.6,304.69 446.6,303.53 447.6,302.31 448.6,301.04 449.6,299.73 450.6,298.37 451.6,296.97 452.6,295.53 453.6,294.06 454.6,292.56 455.6,291.03 456.6,289.47 457.6,287.90 458.6,286.31 459.6,284.70 460.6,283.08 461.6,281.46 462.6,279.83 463.6,278.20 464.6,276.58 465.6,274.96 466.6,273.35 467.6,271.76 468.6,270.19 469.6,268.64 470.6,267.11 471.6,265.62 472.6,264.15 473.6,262.72 474.6,261.33 475.6,259.97 476.6,258.67 477.6,257.40 478.6,256.19 479.6,255.03 480.6,253.93 481.6,252.88 482.6,251.90 483.6,250.97 484.6,250.11 485.6,249.32 486.6,248.59 487.6,247.93 488.6,247.35 489.6,246.83 490.6,246.39 491.6,246.02 492.6,245.73 493.6,245.51 494.6,245.37 495.6,245.30 496.6,245.32 497.6,245.40 498.6,245.57 499.6,245.81 500.6,246.12 501.6,246.51 502.6,246.98 503.6,247.52 504.6,248.12 505.6,248.80 506.6,249.55 507.6,250.36 508.6,251.24 509.6,252.19 510.6,253.19 511.6,254.26 512.6,255.38 513.6,256.55 514.6,257.78 515.6,259.05 516.6,260.37 517.6,261.74 518.6,263.14 519.6,264.59 520.6,266.06 521.6,267.57 522.6,269.10 523.6,270.66 524.6,272.24 525.6,273.84 526.6,275.44 527.6,277.06 528.6,278.69 529.6,280.32 530.6,281.94 531.6,283.57 532.6,285.18 533.6,286.78 534.6,288.37 535.6,289.94 536.6,291.49 537.6,293.01 538.6,294.51 539.6,295.97 540.6,297.39 541.6,298.78 542.6,300.13 543.6,301.43 544.6,302.68 545.6,303.88 546.6,305.03 547.6,306.13 548.6,307.17 549.6,308.14 550.6,309.06 551.6,309.91 552.6,310.69 553.6,311.41 554.6,312.06 555.6,312.64" fill="none" stroke="#222" stroke-width="1.15" stroke-dasharray="5.2 4.1"/>
<use href="#gG" fill="#f5a91e" transform="translate(37.50,382.90) scale(0.01260,0.00100)"/>
<use href="#gT" fill="#e8222a" transform="translate(37.50,381.40) scale(0.01260,0.00150)"/>
<use href="#gA" fill="#69bb45" transform="translate(37.50,378.40) scale(0.01260,0.00300)"/>
<use href="#gT" fill="#e8222a" transform="translate(75.33,380.40) scale(0.01260,0.00350)"/>
<use href="#gC" fill="#5fc1e2" transform="translate(75.33,375.50) scale(0.01260,0.00490)"/>
<use href="#gA" fill="#69bb45" transform="translate(75.33,365.70) scale(0.01260,0.00980)"/>
<use href="#gT" fill="#e8222a" transform="translate(87.94,383.10) scale(0.01260,0.00080)"/>
<use href="#gA" fill="#69bb45" transform="translate(87.94,382.30) scale(0.01260,0.00080)"/>
<use href="#gC" fill="#5fc1e2" transform="translate(87.94,381.50) scale(0.01260,0.00080)"/>
<use href="#gG" fill="#f5a91e" transform="translate(100.55,382.40) scale(0.01260,0.00150)"/>
<use href="#gC" fill="#5fc1e2" transform="translate(100.55,381.20) scale(0.01260,0.00120)"/>
<use href="#gT" fill="#e8222a" transform="translate(100.55,378.40) scale(0.01260,0.00280)"/>
<use href="#gA" fill="#69bb45" transform="translate(100.55,370.10) scale(0.01260,0.00830)"/>
<use href="#gG" fill="#f5a91e" transform="translate(113.16,380.10) scale(0.01260,0.00380)"/>
<use href="#gT" fill="#e8222a" transform="translate(113.16,366.30) scale(0.01260,0.01380)"/>
<use href="#gA" fill="#69bb45" transform="translate(113.16,344.30) scale(0.01260,0.02200)"/>
<use href="#gA" fill="#69bb45" transform="translate(125.77,382.10) scale(0.01260,0.00180)"/>
<use href="#gG" fill="#f5a91e" transform="translate(125.77,380.10) scale(0.01260,0.00200)"/>
<use href="#gC" fill="#5fc1e2" transform="translate(125.77,370.40) scale(0.01260,0.00970)"/>
<use href="#gT" fill="#e8222a" transform="translate(125.77,344.40) scale(0.01260,0.02600)"/>
<use href="#gC" fill="#5fc1e2" transform="translate(138.38,382.90) scale(0.01260,0.00100)"/>
<use href="#gG" fill="#f5a91e" transform="translate(138.38,381.90) scale(0.01260,0.00100)"/>
<use href="#gT" fill="#e8222a" transform="translate(138.38,378.50) scale(0.01260,0.00340)"/>
<use href="#gC" fill="#5fc1e2" transform="translate(163.60,383.30) scale(0.01260,0.00060)"/>
<use href="#gA" fill="#69bb45" transform="translate(163.60,378.50) scale(0.01260,0.00480)"/>
<use href="#gT" fill="#e8222a" transform="translate(163.60,372.00) scale(0.01260,0.00650)"/>
<use href="#gT" fill="#e8222a" transform="translate(176.21,367.90) scale(0.01260,0.01600)"/>
<use href="#gA" fill="#69bb45" transform="translate(176.21,308.00) scale(0.01260,0.05990)"/>
<use href="#gG" fill="#f5a91e" transform="translate(188.82,380.10) scale(0.01260,0.00380)"/>
<use href="#gT" fill="#e8222a" transform="translate(188.82,368.70) scale(0.01260,0.01140)"/>
<use href="#gA" fill="#69bb45" transform="translate(188.82,339.60) scale(0.01260,0.02910)"/>
<use href="#gC" fill="#5fc1e2" transform="translate(201.43,382.40) scale(0.01260,0.00150)"/>
<use href="#gG" fill="#f5a91e" transform="translate(201.43,380.30) scale(0.01260,0.00210)"/>
<use href="#gA" fill="#69bb45" transform="translate(201.43,371.80) scale(0.01260,0.00850)"/>
<use href="#gT" fill="#e8222a" transform="translate(201.43,319.90) scale(0.01260,0.05190)"/>
<use href="#gC" fill="#5fc1e2" transform="translate(214.04,381.20) scale(0.01260,0.00270)"/>
<use href="#gA" fill="#69bb45" transform="translate(214.04,370.00) scale(0.01260,0.01120)"/>
<use href="#gG" fill="#f5a91e" transform="translate(214.04,311.50) scale(0.01260,0.05850)"/>
<use href="#gC" fill="#5fc1e2" transform="translate(226.65,370.90) scale(0.01260,0.01300)"/>
<use href="#gA" fill="#69bb45" transform="translate(226.65,293.60) scale(0.01260,0.07730)"/>
<use href="#gG" fill="#f5a91e" transform="translate(239.26,379.50) scale(0.01260,0.00440)"/>
<use href="#gA" fill="#69bb45" transform="translate(239.26,368.30) scale(0.01260,0.01120)"/>
<use href="#gT" fill="#e8222a" transform="translate(239.26,335.60) scale(0.01260,0.03270)"/>
<use href="#gT" fill="#e8222a" transform="translate(251.87,371.80) scale(0.01260,0.01210)"/>
<use href="#gA" fill="#69bb45" transform="translate(251.87,293.60) scale(0.01260,0.07820)"/>
<use href="#gG" fill="#f5a91e" transform="translate(264.48,381.20) scale(0.01260,0.00270)"/>
<use href="#gC" fill="#5fc1e2" transform="translate(264.48,370.00) scale(0.01260,0.01120)"/>
<use href="#gA" fill="#69bb45" transform="translate(264.48,311.50) scale(0.01260,0.05850)"/>
<use href="#gG" fill="#f5a91e" transform="translate(277.09,380.30) scale(0.01260,0.00360)"/>
<use href="#gC" fill="#5fc1e2" transform="translate(277.09,369.20) scale(0.01260,0.01110)"/>
<use href="#gT" fill="#e8222a" transform="translate(277.09,324.70) scale(0.01260,0.04450)"/>
<use href="#gC" fill="#5fc1e2" transform="translate(302.31,380.30) scale(0.01260,0.00360)"/>
<use href="#gG" fill="#f5a91e" transform="translate(302.31,367.50) scale(0.01260,0.01280)"/>
<use href="#gA" fill="#69bb45" transform="translate(302.31,324.80) scale(0.01260,0.04270)"/>
<use href="#gC" fill="#5fc1e2" transform="translate(314.92,380.30) scale(0.01260,0.00360)"/>
<use href="#gG" fill="#f5a91e" transform="translate(314.92,367.50) scale(0.01260,0.01280)"/>
<use href="#gT" fill="#e8222a" transform="translate(314.92,311.50) scale(0.01260,0.05600)"/>
<use href="#gA" fill="#69bb45" transform="translate(327.53,373.50) scale(0.01260,0.01040)"/>
<use href="#gT" fill="#e8222a" transform="translate(327.53,293.60) scale(0.01260,0.07990)"/>
<use href="#gC" fill="#5fc1e2" transform="translate(340.14,379.50) scale(0.01260,0.00440)"/>
<use href="#gT" fill="#e8222a" transform="translate(340.14,368.30) scale(0.01260,0.01120)"/>
<use href="#gA" fill="#69bb45" transform="translate(340.14,335.60) scale(0.01260,0.03270)"/>
<use href="#gG" fill="#f5a91e" transform="translate(352.75,373.50) scale(0.01260,0.01040)"/>
<use href="#gT" fill="#e8222a" transform="translate(352.75,293.60) scale(0.01260,0.07990)"/>
<use href="#gG" fill="#f5a91e" transform="translate(365.36,381.50) scale(0.01260,0.00240)"/>
<use href="#gC" fill="#5fc1e2" transform="translate(365.36,379.10) scale(0.01260,0.00240)"/>
<use href="#gT" fill="#e8222a" transform="translate(365.36,370.00) scale(0.01260,0.00910)"/>
<use href="#gC" fill="#5fc1e2" transform="translate(365.36,311.50) scale(0.01260,0.05850)"/>
<use href="#gG" fill="#f5a91e" transform="translate(377.97,382.40) scale(0.01260,0.00150)"/>
<use href="#gC" fill="#5fc1e2" transform="translate(377.97,377.40) scale(0.01260,0.00500)"/>
<use href="#gT" fill="#e8222a" transform="translate(377.97,371.00) scale(0.01260,0.00640)"/>
<use href="#gA" fill="#69bb45" transform="translate(377.97,320.10) scale(0.01260,0.05090)"/>
<use href="#gC" fill="#5fc1e2" transform="translate(390.58,379.80) scale(0.01260,0.00410)"/>
<use href="#gA" fill="#69bb45" transform="translate(390.58,367.90) scale(0.01260,0.01190)"/>
<use href="#gT" fill="#e8222a" transform="translate(390.58,340.00) scale(0.01260,0.02790)"/>
<use href="#gA" fill="#69bb45" transform="translate(403.19,366.70) scale(0.01260,0.01720)"/>
<use href="#gT" fill="#e8222a" transform="translate(403.19,307.30) scale(0.01260,0.05940)"/>
<use href="#gG" fill="#f5a91e" transform="translate(415.80,381.00) scale(0.01260,0.00290)"/>
<use href="#gT" fill="#e8222a" transform="translate(415.80,377.70) scale(0.01260,0.00330)"/>
<use href="#gA" fill="#69bb45" transform="translate(415.80,371.10) scale(0.01260,0.00660)"/>
<use href="#gA" fill="#69bb45" transform="translate(441.02,378.50) scale(0.01260,0.00540)"/>
<use href="#gC" fill="#5fc1e2" transform="translate(453.63,382.40) scale(0.01260,0.00150)"/>
<use href="#gT" fill="#e8222a" transform="translate(453.63,380.20) scale(0.01260,0.00220)"/>
<use href="#gG" fill="#f5a91e" transform="translate(453.63,370.30) scale(0.01260,0.00990)"/>
<use href="#gA" fill="#69bb45" transform="translate(453.63,344.90) scale(0.01260,0.02540)"/>
<use href="#gC" fill="#5fc1e2" transform="translate(466.24,380.00) scale(0.01260,0.00390)"/>
<use href="#gA" fill="#69bb45" transform="translate(466.24,366.30) scale(0.01260,0.01370)"/>
<use href="#gT" fill="#e8222a" transform="translate(466.24,344.40) scale(0.01260,0.02190)"/>
<use href="#gG" fill="#f5a91e" transform="translate(478.85,382.90) scale(0.01260,0.00100)"/>
<use href="#gA" fill="#69bb45" transform="translate(478.85,377.50) scale(0.01260,0.00540)"/>
<use href="#gT" fill="#e8222a" transform="translate(478.85,369.90) scale(0.01260,0.00760)"/>
<use href="#gA" fill="#69bb45" transform="translate(491.46,382.90) scale(0.01260,0.00100)"/>
<use href="#gA" fill="#69bb45" transform="translate(504.07,382.50) scale(0.01260,0.00140)"/>
<use href="#gG" fill="#f5a91e" transform="translate(504.07,375.20) scale(0.01260,0.00730)"/>
<use href="#gT" fill="#e8222a" transform="translate(504.07,365.50) scale(0.01260,0.00970)"/>
<use href="#gA" fill="#69bb45" transform="translate(541.90,381.90) scale(0.01260,0.00200)"/>
<use href="#gT" fill="#e8222a" transform="translate(541.90,378.90) scale(0.01260,0.00300)"/>
<g stroke="#000" stroke-opacity="0.8" stroke-width="1">
<line x1="43.80" y1="372.60" x2="43.80" y2="384.40"/>
<line x1="40.60" y1="372.60" x2="47.00" y2="372.60" stroke-width="1.2"/>
<line x1="40.60" y1="384.40" x2="47.00" y2="384.40" stroke-width="1.2"/>
<line x1="56.41" y1="378.40" x2="56.41" y2="390.10"/>
<line x1="53.21" y1="378.40" x2="59.61" y2="378.40" stroke-width="1.2"/>
<line x1="53.21" y1="390.10" x2="59.61" y2="390.10" stroke-width="1.2"/>
<line x1="69.02" y1="378.40" x2="69.02" y2="390.10"/>
<line x1="65.82" y1="378.40" x2="72.22" y2="378.40" stroke-width="1.2"/>
<line x1="65.82" y1="390.10" x2="72.22" y2="390.10" stroke-width="1.2"/>
<line x1="81.63" y1="359.70" x2="81.63" y2="371.80"/>
<line x1="78.43" y1="359.70" x2="84.83" y2="359.70" stroke-width="1.2"/>
<line x1="78.43" y1="371.80" x2="84.83" y2="371.80" stroke-width="1.2"/>
<line x1="94.24" y1="376.30" x2="94.24" y2="388.50"/>
<line x1="91.04" y1="376.30" x2="97.44" y2="376.30" stroke-width="1.2"/>
<line x1="91.04" y1="388.50" x2="97.44" y2="388.50" stroke-width="1.2"/>
<line x1="106.85" y1="363.60" x2="106.85" y2="376.30"/>
<line x1="103.65" y1="363.60" x2="110.05" y2="363.60" stroke-width="1.2"/>
<line x1="103.65" y1="376.30" x2="110.05" y2="376.30" stroke-width="1.2"/>
<line x1="119.46" y1="338.40" x2="119.46" y2="350.40"/>
<line x1="116.26" y1="338.40" x2="122.66" y2="338.40" stroke-width="1.2"/>
<line x1="116.26" y1="350.40" x2="122.66" y2="350.40" stroke-width="1.2"/>
<line x1="132.07" y1="338.40" x2="132.07" y2="350.40"/>
<line x1="128.87" y1="338.40" x2="135.27" y2="338.40" stroke-width="1.2"/>
<line x1="128.87" y1="350.40" x2="135.27" y2="350.40" stroke-width="1.2"/>
<line x1="144.68" y1="372.80" x2="144.68" y2="384.20"/>
<line x1="141.48" y1="372.80" x2="147.88" y2="372.80" stroke-width="1.2"/>
<line x1="141.48" y1="384.20" x2="147.88" y2="384.20" stroke-width="1.2"/>
<line x1="157.29" y1="378.50" x2="157.29" y2="389.00"/>
<line x1="154.09" y1="378.50" x2="160.49" y2="378.50" stroke-width="1.2"/>
<line x1="154.09" y1="389.00" x2="160.49" y2="389.00" stroke-width="1.2"/>
<line x1="169.90" y1="365.50" x2="169.90" y2="377.70"/>
<line x1="166.70" y1="365.50" x2="173.10" y2="365.50" stroke-width="1.2"/>
<line x1="166.70" y1="377.70" x2="173.10" y2="377.70" stroke-width="1.2"/>
<line x1="182.51" y1="300.60" x2="182.51" y2="312.70"/>
<line x1="179.31" y1="300.60" x2="185.71" y2="300.60" stroke-width="1.2"/>
<line x1="179.31" y1="312.70" x2="185.71" y2="312.70" stroke-width="1.2"/>
<line x1="195.12" y1="332.50" x2="195.12" y2="344.40"/>
<line x1="191.92" y1="332.50" x2="198.32" y2="332.50" stroke-width="1.2"/>
<line x1="191.92" y1="344.40" x2="198.32" y2="344.40" stroke-width="1.2"/>
<line x1="207.73" y1="312.60" x2="207.73" y2="325.00"/>
<line x1="204.53" y1="312.60" x2="210.93" y2="312.60" stroke-width="1.2"/>
<line x1="204.53" y1="325.00" x2="210.93" y2="325.00" stroke-width="1.2"/>
<line x1="220.34" y1="304.40" x2="220.34" y2="316.40"/>
<line x1="217.14" y1="304.40" x2="223.54" y2="304.40" stroke-width="1.2"/>
<line x1="217.14" y1="316.40" x2="223.54" y2="316.40" stroke-width="1.2"/>
<line x1="232.95" y1="286.50" x2="232.95" y2="298.50"/>
<line x1="229.75" y1="286.50" x2="236.15" y2="286.50" stroke-width="1.2"/>
<line x1="229.75" y1="298.50" x2="236.15" y2="298.50" stroke-width="1.2"/>
<line x1="245.56" y1="328.50" x2="245.56" y2="340.00"/>
<line x1="242.36" y1="328.50" x2="248.76" y2="328.50" stroke-width="1.2"/>
<line x1="242.36" y1="340.00" x2="248.76" y2="340.00" stroke-width="1.2"/>
<line x1="258.17" y1="286.50" x2="258.17" y2="298.50"/>
<line x1="254.97" y1="286.50" x2="261.37" y2="286.50" stroke-width="1.2"/>
<line x1="254.97" y1="298.50" x2="261.37" y2="298.50" stroke-width="1.2"/>
<line x1="270.78" y1="304.40" x2="270.78" y2="316.40"/>
<line x1="267.58" y1="304.40" x2="273.98" y2="304.40" stroke-width="1.2"/>
<line x1="267.58" y1="316.40" x2="273.98" y2="316.40" stroke-width="1.2"/>
<line x1="283.39" y1="317.40" x2="283.39" y2="329.70"/>
<line x1="280.19" y1="317.40" x2="286.59" y2="317.40" stroke-width="1.2"/>
<line x1="280.19" y1="329.70" x2="286.59" y2="329.70" stroke-width="1.2"/>
<line x1="296.00" y1="378.60" x2="296.00" y2="389.00"/>
<line x1="292.80" y1="378.60" x2="299.20" y2="378.60" stroke-width="1.2"/>
<line x1="292.80" y1="389.00" x2="299.20" y2="389.00" stroke-width="1.2"/>
<line x1="308.61" y1="317.40" x2="308.61" y2="329.40"/>
<line x1="305.41" y1="317.40" x2="311.81" y2="317.40" stroke-width="1.2"/>
<line x1="305.41" y1="329.40" x2="311.81" y2="329.40" stroke-width="1.2"/>
<line x1="321.22" y1="304.40" x2="321.22" y2="316.40"/>
<line x1="318.02" y1="304.40" x2="324.42" y2="304.40" stroke-width="1.2"/>
<line x1="318.02" y1="316.40" x2="324.42" y2="316.40" stroke-width="1.2"/>
<line x1="333.83" y1="286.50" x2="333.83" y2="298.50"/>
<line x1="330.63" y1="286.50" x2="337.03" y2="286.50" stroke-width="1.2"/>
<line x1="330.63" y1="298.50" x2="337.03" y2="298.50" stroke-width="1.2"/>
<line x1="346.44" y1="328.50" x2="346.44" y2="340.40"/>
<line x1="343.24" y1="328.50" x2="349.64" y2="328.50" stroke-width="1.2"/>
<line x1="343.24" y1="340.40" x2="349.64" y2="340.40" stroke-width="1.2"/>
<line x1="359.05" y1="286.50" x2="359.05" y2="298.50"/>
<line x1="355.85" y1="286.50" x2="362.25" y2="286.50" stroke-width="1.2"/>
<line x1="355.85" y1="298.50" x2="362.25" y2="298.50" stroke-width="1.2"/>
<line x1="371.66" y1="304.40" x2="371.66" y2="316.40"/>
<line x1="368.46" y1="304.40" x2="374.86" y2="304.40" stroke-width="1.2"/>
<line x1="368.46" y1="316.40" x2="374.86" y2="316.40" stroke-width="1.2"/>
<line x1="384.27" y1="313.00" x2="384.27" y2="325.00"/>
<line x1="381.07" y1="313.00" x2="387.47" y2="313.00" stroke-width="1.2"/>
<line x1="381.07" y1="325.00" x2="387.47" y2="325.00" stroke-width="1.2"/>
<line x1="396.88" y1="333.00" x2="396.88" y2="344.90"/>
<line x1="393.68" y1="333.00" x2="400.08" y2="333.00" stroke-width="1.2"/>
<line x1="393.68" y1="344.90" x2="400.08" y2="344.90" stroke-width="1.2"/>
<line x1="409.49" y1="300.20" x2="409.49" y2="312.10"/>
<line x1="406.29" y1="300.20" x2="412.69" y2="300.20" stroke-width="1.2"/>
<line x1="406.29" y1="312.10" x2="412.69" y2="312.10" stroke-width="1.2"/>
<line x1="422.10" y1="365.70" x2="422.10" y2="377.70"/>
<line x1="418.90" y1="365.70" x2="425.30" y2="365.70" stroke-width="1.2"/>
<line x1="418.90" y1="377.70" x2="425.30" y2="377.70" stroke-width="1.2"/>
<line x1="434.71" y1="378.50" x2="434.71" y2="390.00"/>
<line x1="431.51" y1="378.50" x2="437.91" y2="378.50" stroke-width="1.2"/>
<line x1="431.51" y1="390.00" x2="437.91" y2="390.00" stroke-width="1.2"/>
<line x1="447.32" y1="372.80" x2="447.32" y2="384.30"/>
<line x1="444.12" y1="372.80" x2="450.52" y2="372.80" stroke-width="1.2"/>
<line x1="444.12" y1="384.30" x2="450.52" y2="384.30" stroke-width="1.2"/>
<line x1="459.93" y1="338.90" x2="459.93" y2="351.00"/>
<line x1="456.73" y1="338.90" x2="463.13" y2="338.90" stroke-width="1.2"/>
<line x1="456.73" y1="351.00" x2="463.13" y2="351.00" stroke-width="1.2"/>
<line x1="472.54" y1="338.20" x2="472.54" y2="350.00"/>
<line x1="469.34" y1="338.20" x2="475.74" y2="338.20" stroke-width="1.2"/>
<line x1="469.34" y1="350.00" x2="475.74" y2="350.00" stroke-width="1.2"/>
<line x1="485.15" y1="363.80" x2="485.15" y2="376.00"/>
<line x1="481.95" y1="363.80" x2="488.35" y2="363.80" stroke-width="1.2"/>
<line x1="481.95" y1="376.00" x2="488.35" y2="376.00" stroke-width="1.2"/>
<line x1="497.76" y1="376.00" x2="497.76" y2="388.20"/>
<line x1="494.56" y1="376.00" x2="500.96" y2="376.00" stroke-width="1.2"/>
<line x1="494.56" y1="388.20" x2="500.96" y2="388.20" stroke-width="1.2"/>
<line x1="510.37" y1="359.40" x2="510.37" y2="371.60"/>
<line x1="507.17" y1="359.40" x2="513.57" y2="359.40" stroke-width="1.2"/>
<line x1="507.17" y1="371.60" x2="513.57" y2="371.60" stroke-width="1.2"/>
<line x1="522.98" y1="377.60" x2="522.98" y2="390.10"/>
<line x1="519.78" y1="377.60" x2="526.18" y2="377.60" stroke-width="1.2"/>
<line x1="519.78" y1="390.10" x2="526.18" y2="390.10" stroke-width="1.2"/>
<line x1="535.59" y1="377.60" x2="535.59" y2="390.10"/>
<line x1="532.39" y1="377.60" x2="538.79" y2="377.60" stroke-width="1.2"/>
<line x1="532.39" y1="390.10" x2="538.79" y2="390.10" stroke-width="1.2"/>
<line x1="548.20" y1="372.80" x2="548.20" y2="384.10"/>
<line x1="545.00" y1="372.80" x2="551.40" y2="372.80" stroke-width="1.2"/>
<line x1="545.00" y1="384.10" x2="551.40" y2="384.10" stroke-width="1.2"/>
</g>
<g font-family="Liberation Sans, sans-serif" font-size="10.4" fill="#111" stroke="#111" stroke-width="0.3">
<text transform="translate(48.80,401.00) rotate(-90)" text-anchor="middle">20</text>
<rect x="44.90" y="407.78" width="1.1" height="5.1" stroke="none"/>
<text transform="translate(61.41,401.00) rotate(-90)" text-anchor="middle">19</text>
<rect x="57.51" y="407.78" width="1.1" height="5.1" stroke="none"/>
<text transform="translate(74.02,401.00) rotate(-90)" text-anchor="middle">18</text>
<rect x="70.12" y="407.78" width="1.1" height="5.1" stroke="none"/>
<text transform="translate(86.63,401.00) rotate(-90)" text-anchor="middle">17</text>
<rect x="82.73" y="407.78" width="1.1" height="5.1" stroke="none"/>
<text transform="translate(99.24,401.00) rotate(-90)" text-anchor="middle">16</text>
<rect x="95.34" y="407.78" width="1.1" height="5.1" stroke="none"/>
<text transform="translate(111.85,401.00) rotate(-90)" text-anchor="middle">15</text>
<rect x="107.95" y="407.78" width="1.1" height="5.1" stroke="none"/>
<text transform="translate(124.46,401.00) rotate(-90)" text-anchor="middle">14</text>
<rect x="120.56" y="407.78" width="1.1" height="5.1" stroke="none"/>
<text transform="translate(137.07,401.00) rotate(-90)" text-anchor="middle">13</text>
<rect x="133.17" y="407.78" width="1.1" height="5.1" stroke="none"/>
<text transform="translate(149.68,401.00) rotate(-90)" text-anchor="middle">12</text>
<rect x="145.78" y="407.78" width="1.1" height="5.1" stroke="none"/>
<text transform="translate(162.29,401.00) rotate(-90)" text-anchor="middle">11</text>
<rect x="158.39" y="407.78" width="1.1" height="5.1" stroke="none"/>
<text transform="translate(174.90,401.00) rotate(-90)" text-anchor="middle">10</text>
<rect x="171.00" y="407.78" width="1.1" height="5.1" stroke="none"/>
<text transform="translate(187.51,401.00) rotate(-90)" text-anchor="middle">9</text>
<rect x="183.61" y="404.89" width="1.1" height="5.1" stroke="none"/>
<text transform="translate(200.12,401.00) rotate(-90)" text-anchor="middle">8</text>
<rect x="196.22" y="404.89" width="1.1" height="5.1" stroke="none"/>
<text transform="translate(212.73,401.00) rotate(-90)" text-anchor="middle">7</text>
<rect x="208.83" y="404.89" width="1.1" height="5.1" stroke="none"/>
<text transform="translate(225.34,401.00) rotate(-90)" text-anchor="middle">6</text>
<rect x="221.44" y="404.89" width="1.1" height="5.1" stroke="none"/>
<text transform="translate(237.95,401.00) rotate(-90)" text-anchor="middle">5</text>
<rect x="234.05" y="404.89" width="1.1" height="5.1" stroke="none"/>
<text transform="translate(250.56,401.00) rotate(-90)" text-anchor="middle">4</text>
<rect x="246.66" y="404.89" width="1.1" height="5.1" stroke="none"/>
<text transform="translate(263.17,401.00) rotate(-90)" text-anchor="middle">3</text>
<rect x="259.27" y="404.89" width="1.1" height="5.1" stroke="none"/>
<text transform="translate(275.78,401.00) rotate(-90)" text-anchor="middle">2</text>
<rect x="271.88" y="404.89" width="1.1" height="5.1" stroke="none"/>
<text transform="translate(288.39,401.00) rotate(-90)" text-anchor="middle">1</text>
<rect x="284.49" y="404.89" width="1.1" height="5.1" stroke="none"/>
<text transform="translate(301.00,401.00) rotate(-90)" text-anchor="middle">0</text>
<text transform="translate(313.61,401.00) rotate(-90)" text-anchor="middle">1</text>
<text transform="translate(326.22,401.00) rotate(-90)" text-anchor="middle">2</text>
<text transform="translate(338.83,401.00) rotate(-90)" text-anchor="middle">3</text>
<text transform="translate(351.44,401.00) rotate(-90)" text-anchor="middle">4</text>
<text transform="translate(364.05,401.00) rotate(-90)" text-anchor="middle">5</text>
<text transform="translate(376.66,401.00) rotate(-90)" text-anchor="middle">6</text>
<text transform="translate(389.27,401.00) rotate(-90)" text-anchor="middle">7</text>
<text transform="translate(401.88,401.00) rotate(-90)" text-anchor="middle">8</text>
<text transform="translate(414.49,401.00) rotate(-90)" text-anchor="middle">9</text>
<text transform="translate(427.10,401.00) rotate(-90)" text-anchor="middle">10</text>
<text transform="translate(439.71,401.00) rotate(-90)" text-anchor="middle">11</text>
<text transform="translate(452.32,401.00) rotate(-90)" text-anchor="middle">12</text>
<text transform="translate(464.93,401.00) rotate(-90)" text-anchor="middle">13</text>
<text transform="translate(477.54,401.00) rotate(-90)" text-anchor="middle">14</text>
<text transform="translate(490.15,401.00) rotate(-90)" text-anchor="middle">15</text>
<text transform="translate(502.76,401.00) rotate(-90)" text-anchor="middle">16</text>
<text transform="translate(515.37,401.00) rotate(-90)" text-anchor="middle">17</text>
<text transform="translate(527.98,401.00) rotate(-90)" text-anchor="middle">18</text>
<text transform="translate(540.59,401.00) rotate(-90)" text-anchor="middle">19</text>
<text transform="translate(553.20,401.00) rotate(-90)" text-anchor="middle">20</text>
</g>
<text x="24.5" y="402.90" font-family="Liberation Sans, sans-serif" font-size="10" stroke="#000" stroke-width="0.3">5<tspan dx="1.2">′</tspan></text>
<text x="558.5" y="402.90" font-family="Liberation Sans, sans-serif" font-size="10" stroke="#000" stroke-width="0.3">3<tspan dx="1.2">′</tspan></text>
<line x1="556" y1="245.30" x2="556" y2="383.90" stroke="#111" stroke-width="2.1"/>
<text x="570.5" y="289.80" font-family="Liberation Serif, serif" font-weight="bold" font-size="10.5">M9</text>
<text x="570.5" y="302.20" font-family="Liberation Serif, serif" font-weight="bold" font-size="10.5">18.1 bits</text>
<text x="570.5" y="314.60" font-family="Liberation Serif, serif" font-weight="bold" font-size="10.5">(–9, +9)</text>
<text x="0.8" y="481.5" font-family="Liberation Serif, serif" font-weight="bold" font-size="11">C</text>
<g stroke="#111" stroke-width="1.1">
<line x1="30.2" y1="615.20" x2="37" y2="615.20"/>
<line x1="33.6" y1="608.27" x2="37" y2="608.27"/>
<line x1="33.6" y1="601.34" x2="37" y2="601.34"/>
<line x1="33.6" y1="594.41" x2="37" y2="594.41"/>
<line x1="33.6" y1="587.48" x2="37" y2="587.48"/>
<line x1="30.2" y1="580.55" x2="37" y2="580.55"/>
<line x1="33.6" y1="573.62" x2="37" y2="573.62"/>
<line x1="33.6" y1="566.69" x2="37" y2="566.69"/>
<line x1="33.6" y1="559.76" x2="37" y2="559.76"/>
<line x1="33.6" y1="552.83" x2="37" y2="552.83"/>
<line x1="30.2" y1="545.90" x2="37" y2="545.90"/>
<line x1="33.6" y1="538.97" x2="37" y2="538.97"/>
<line x1="33.6" y1="532.04" x2="37" y2="532.04"/>
<line x1="33.6" y1="525.11" x2="37" y2="525.11"/>
<line x1="33.6" y1="518.18" x2="37" y2="518.18"/>
<line x1="30.2" y1="511.25" x2="37" y2="511.25"/>
<line x1="33.6" y1="504.32" x2="37" y2="504.32"/>
<line x1="33.6" y1="497.39" x2="37" y2="497.39"/>
<line x1="33.6" y1="490.46" x2="37" y2="490.46"/>
<line x1="33.6" y1="483.53" x2="37" y2="483.53"/>
<line x1="30.2" y1="476.60" x2="37" y2="476.60"/>
</g>
<line x1="36.4" y1="476.00" x2="36.4" y2="615.80" stroke="#000" stroke-width="2"/>
<path d="M26.5,550.00V542.90H25.5Q25.1,544.50 23.4,544.70V545.70H25.1V550.00Z" fill="#000"/>
<text x="27.4" y="620.20" text-anchor="end" font-family="Liberation Sans, sans-serif" font-size="10.3" stroke="#000" stroke-width="0.35">0</text>
<text x="27.4" y="481.60" text-anchor="end" font-family="Liberation Sans, sans-serif" font-size="10.3" stroke="#000" stroke-width="0.35">2</text>
<text transform="translate(8.3,545.90) rotate(-90)" text-anchor="middle" font-family="Liberation Sans, sans-serif" font-size="11" stroke="#000" stroke-width="0.3">bits</text>
<polyline points="36.6,543.11 37.6,542.43 38.6,541.69 39.6,540.88 40.6,540.00 41.6,539.06 42.6,538.06 43.6,537.00 44.6,535.88 45.6,534.71 46.6,533.48 47.6,532.21 48.6,530.89 49.6,529.53 50.6,528.13 51.6,526.69 52.6,525.21 53.6,523.71 54.6,522.17 55.6,520.62 56.6,519.04 57.6,517.45 58.6,515.84 59.6,514.22 60.6,512.59 61.6,510.97 62.6,509.34 63.6,507.71 64.6,506.10 65.6,504.50 66.6,502.91 67.6,501.34 68.6,499.79 69.6,498.26 70.6,496.77 71.6,495.31 72.6,493.88 73.6,492.49 74.6,491.14 75.6,489.84 76.6,488.58 77.6,487.38 78.6,486.22 79.6,485.12 80.6,484.08 81.6,483.10 82.6,482.18 83.6,481.33 84.6,480.54 85.6,479.82 86.6,479.17 87.6,478.59 88.6,478.08 89.6,477.65 90.6,477.29 91.6,477.00 92.6,476.79 93.6,476.66 94.6,476.60 95.6,476.62 96.6,476.72 97.6,476.89 98.6,477.14 99.6,477.46 100.6,477.86 101.6,478.33 102.6,478.87 103.6,479.49 104.6,480.17 105.6,480.93 106.6,481.75 107.6,482.64 108.6,483.59 109.6,484.60 110.6,485.67 111.6,486.79 112.6,487.97 113.6,489.20 114.6,490.48 115.6,491.81 116.6,493.18 117.6,494.59 118.6,496.03 119.6,497.51 120.6,499.02 121.6,500.56 122.6,502.12 123.6,503.70 124.6,505.30 125.6,506.91 126.6,508.53 127.6,510.15 128.6,511.78 129.6,513.41 130.6,515.03 131.6,516.64 132.6,518.24 133.6,519.83 134.6,521.40 135.6,522.94 136.6,524.46 137.6,525.95 138.6,527.41 139.6,528.83 140.6,530.22 141.6,531.56 142.6,532.85 143.6,534.10 144.6,535.30 145.6,536.45 146.6,537.54 147.6,538.57 148.6,539.54 149.6,540.45 150.6,541.29 151.6,542.07 152.6,542.78 153.6,543.42 154.6,543.99 155.6,544.49 156.6,544.91 157.6,545.26 158.6,545.53 159.6,545.73 160.6,545.85 161.6,545.90 162.6,545.87 163.6,545.76 164.6,545.58 165.6,545.32 166.6,544.99 167.6,544.58 168.6,544.09 169.6,543.54 170.6,542.91 171.6,542.22 172.6,541.45 173.6,540.62 174.6,539.73 175.6,538.77 176.6,537.75 177.6,536.67 178.6,535.53 179.6,534.35 180.6,533.11 181.6,531.82 182.6,530.49 183.6,529.11 184.6,527.70 185.6,526.25 186.6,524.76 187.6,523.25 188.6,521.71 189.6,520.15 190.6,518.56 191.6,516.96 192.6,515.35 193.6,513.73 194.6,512.10 195.6,510.48 196.6,508.85 197.6,507.23 198.6,505.62 199.6,504.02 200.6,502.43 201.6,500.87 202.6,499.33 203.6,497.81 204.6,496.33 205.6,494.87 206.6,493.46 207.6,492.08 208.6,490.75 209.6,489.46 210.6,488.21 211.6,487.02 212.6,485.89 213.6,484.81 214.6,483.78 215.6,482.82 216.6,481.92 217.6,481.09 218.6,480.32 219.6,479.62 220.6,478.99 221.6,478.43 222.6,477.95 223.6,477.53 224.6,477.20 225.6,476.93 226.6,476.75 227.6,476.63 228.6,476.60 229.6,476.64 230.6,476.76 231.6,476.96 232.6,477.23 233.6,477.57 234.6,477.99 235.6,478.48 236.6,479.05 237.6,479.69 238.6,480.39 239.6,481.17 240.6,482.01 241.6,482.91 242.6,483.88 243.6,484.91 244.6,486.00 245.6,487.14 246.6,488.34 247.6,489.58 248.6,490.88 249.6,492.22 250.6,493.60 251.6,495.02 252.6,496.47 253.6,497.96 254.6,499.48 255.6,501.02 256.6,502.59 257.6,504.18 258.6,505.78 259.6,507.39 260.6,509.01 261.6,510.64 262.6,512.27 263.6,513.89 264.6,515.51 265.6,517.12 266.6,518.72 267.6,520.30 268.6,521.86 269.6,523.40 270.6,524.91 271.6,526.39 272.6,527.84 273.6,529.25 274.6,530.62 275.6,531.95 276.6,533.23 277.6,534.47 278.6,535.65 279.6,536.78 280.6,537.85 281.6,538.87 282.6,539.82 283.6,540.71 284.6,541.53 285.6,542.29 286.6,542.98 287.6,543.60 288.6,544.15 289.6,544.62 290.6,545.02 291.6,545.35 292.6,545.60 293.6,545.78 294.6,545.88 295.6,545.90 296.6,545.84 297.6,545.71 298.6,545.51 299.6,545.23 300.6,544.87 301.6,544.44 302.6,543.94 303.6,543.36 304.6,542.71 305.6,541.99 306.6,541.21 307.6,540.36 308.6,539.44 309.6,538.47 310.6,537.43 311.6,536.33 312.6,535.18 313.6,533.98 314.6,532.73 315.6,531.43 316.6,530.08 317.6,528.69 318.6,527.27 319.6,525.81 320.6,524.31 321.6,522.79 322.6,521.24 323.6,519.67 324.6,518.08 325.6,516.48 326.6,514.87 327.6,513.24 328.6,511.62 329.6,509.99 330.6,508.36 331.6,506.74 332.6,505.14 333.6,503.54 334.6,501.96 335.6,500.40 336.6,498.87 337.6,497.36 338.6,495.89 339.6,494.44 340.6,493.04 341.6,491.67 342.6,490.35 343.6,489.08 344.6,487.85 345.6,486.68 346.6,485.56 347.6,484.49 348.6,483.49 349.6,482.54 350.6,481.66 351.6,480.85 352.6,480.10 353.6,479.42 354.6,478.82 355.6,478.28 356.6,477.81 357.6,477.42 358.6,477.11 359.6,476.87 360.6,476.70 361.6,476.62 362.6,476.60 363.6,476.67 364.6,476.81 365.6,477.03 366.6,477.32 367.6,477.69 368.6,478.13 369.6,478.65 370.6,479.23 371.6,479.89 372.6,480.62 373.6,481.41 374.6,482.27 375.6,483.20 376.6,484.18 377.6,485.23 378.6,486.33 379.6,487.49 380.6,488.70 381.6,489.97 382.6,491.27 383.6,492.63 384.6,494.02 385.6,495.45 386.6,496.92 387.6,498.41 388.6,499.94 389.6,501.49 390.6,503.06 391.6,504.65 392.6,506.26 393.6,507.88 394.6,509.50 395.6,511.13 396.6,512.76 397.6,514.38 398.6,516.00 399.6,517.61 400.6,519.20 401.6,520.77 402.6,522.33 403.6,523.86 404.6,525.36 405.6,526.83 406.6,528.27 407.6,529.67 408.6,531.03 409.6,532.34 410.6,533.61 411.6,534.83 412.6,535.99 413.6,537.11 414.6,538.16 415.6,539.16 416.6,540.09 417.6,540.96 418.6,541.77 419.6,542.50 420.6,543.17 421.6,543.77 422.6,544.30 423.6,544.75 424.6,545.13 425.6,545.43 426.6,545.66 427.6,545.81 428.6,545.89 429.6,545.89 430.6,545.81 431.6,545.66 432.6,545.43 433.6,545.13 434.6,544.75 435.6,544.30 436.6,543.77 437.6,543.17 438.6,542.50 439.6,541.77 440.6,540.96 441.6,540.09 442.6,539.16 443.6,538.16 444.6,537.11 445.6,535.99 446.6,534.83 447.6,533.61 448.6,532.34 449.6,531.03 450.6,529.67 451.6,528.27 452.6,526.83 453.6,525.36 454.6,523.86 455.6,522.33 456.6,520.77 457.6,519.20 458.6,517.61 459.6,516.00 460.6,514.38 461.6,512.76 462.6,511.13 463.6,509.50 464.6,507.88 465.6,506.26 466.6,504.65 467.6,503.06 468.6,501.49 469.6,499.94 470.6,498.41 471.6,496.92 472.6,495.45 473.6,494.02 474.6,492.63 475.6,491.27 476.6,489.97 477.6,488.70 478.6,487.49 479.6,486.33 480.6,485.23 481.6,484.18 482.6,483.20 483.6,482.27 484.6,481.41 485.6,480.62 486.6,479.89 487.6,479.23 488.6,478.65 489.6,478.13 490.6,477.69 491.6,477.32 492.6,477.03 493.6,476.81 494.6,476.67 495.6,476.60 496.6,476.62 497.6,476.70 498.6,476.87 499.6,477.11 500.6,477.42 501.6,477.81 502.6,478.28 503.6,478.82 504.6,479.42 505.6,480.10 506.6,480.85 507.6,481.66 508.6,482.54 509.6,483.49 510.6,484.49 511.6,485.56 512.6,486.68 513.6,487.85 514.6,489.08 515.6,490.35 516.6,491.67 517.6,493.04 518.6,494.44 519.6,495.89 520.6,497.36 521.6,498.87 522.6,500.40 523.6,501.96 524.6,503.54 525.6,505.14 526.6,506.74 527.6,508.36 528.6,509.99 529.6,511.62 530.6,513.24 531.6,514.87 532.6,516.48 533.6,518.08 534.6,519.67 535.6,521.24 536.6,522.79 537.6,524.31 538.6,525.81 539.6,527.27 540.6,528.69 541.6,530.08 542.6,531.43 543.6,532.73 544.6,533.98 545.6,535.18 546.6,536.33 547.6,537.43 548.6,538.47 549.6,539.44 550.6,540.36 551.6,541.21 552.6,541.99 553.6,542.71 554.6,543.36 555.6,543.94" fill="none" stroke="#222" stroke-width="1.15" stroke-dasharray="5.2 4.1"/>
<use href="#gA" fill="#69bb45" transform="translate(37.50,614.40) scale(0.01260,0.00080)"/>
<use href="#gA" fill="#69bb45" transform="translate(50.11,613.20) scale(0.01260,0.00200)"/>
<use href="#gT" fill="#e8222a" transform="translate(50.11,610.70) scale(0.01260,0.00250)"/>
<use href="#gA" fill="#69bb45" transform="translate(62.72,611.20) scale(0.01260,0.00400)"/>
<use href="#gA" fill="#69bb45" transform="translate(75.33,609.20) scale(0.01260,0.00600)"/>
<use href="#gG" fill="#f5a91e" transform="translate(87.94,613.20) scale(0.01260,0.00200)"/>
<use href="#gC" fill="#5fc1e2" transform="translate(87.94,607.40) scale(0.01260,0.00580)"/>
<use href="#gT" fill="#e8222a" transform="translate(87.94,596.50) scale(0.01260,0.01090)"/>
<use href="#gG" fill="#f5a91e" transform="translate(100.55,612.00) scale(0.01260,0.00320)"/>
<use href="#gT" fill="#e8222a" transform="translate(100.55,608.00) scale(0.01260,0.00400)"/>
<use href="#gG" fill="#f5a91e" transform="translate(113.16,612.80) scale(0.01260,0.00240)"/>
<use href="#gC" fill="#5fc1e2" transform="translate(113.16,603.80) scale(0.01260,0.00900)"/>
<use href="#gA" fill="#69bb45" transform="translate(113.16,591.70) scale(0.01260,0.01210)"/>
<use href="#gT" fill="#e8222a" transform="translate(125.77,613.60) scale(0.01260,0.00160)"/>
<use href="#gA" fill="#69bb45" transform="translate(125.77,607.60) scale(0.01260,0.00600)"/>
<use href="#gC" fill="#5fc1e2" transform="translate(138.38,613.60) scale(0.01260,0.00160)"/>
<use href="#gG" fill="#f5a91e" transform="translate(138.38,612.00) scale(0.01260,0.00160)"/>
<use href="#gT" fill="#e8222a" transform="translate(138.38,600.60) scale(0.01260,0.01140)"/>
<use href="#gA" fill="#69bb45" transform="translate(138.38,579.20) scale(0.01260,0.02140)"/>
<use href="#gG" fill="#f5a91e" transform="translate(150.99,612.00) scale(0.01260,0.00320)"/>
<use href="#gT" fill="#e8222a" transform="translate(150.99,599.80) scale(0.01260,0.01220)"/>
<use href="#gA" fill="#69bb45" transform="translate(150.99,580.20) scale(0.01260,0.01960)"/>
<use href="#gA" fill="#69bb45" transform="translate(163.60,614.20) scale(0.01260,0.00100)"/>
<use href="#gG" fill="#f5a91e" transform="translate(163.60,613.00) scale(0.01260,0.00120)"/>
<use href="#gC" fill="#5fc1e2" transform="translate(163.60,606.30) scale(0.01260,0.00670)"/>
<use href="#gT" fill="#e8222a" transform="translate(163.60,596.50) scale(0.01260,0.00980)"/>
<use href="#gT" fill="#e8222a" transform="translate(188.82,612.00) scale(0.01260,0.00320)"/>
<use href="#gG" fill="#f5a91e" transform="translate(188.82,606.30) scale(0.01260,0.00570)"/>
<use href="#gA" fill="#69bb45" transform="translate(188.82,591.70) scale(0.01260,0.01460)"/>
<use href="#gA" fill="#69bb45" transform="translate(201.43,606.20) scale(0.01260,0.00900)"/>
<use href="#gT" fill="#e8222a" transform="translate(201.43,598.20) scale(0.01260,0.00800)"/>
<use href="#gA" fill="#69bb45" transform="translate(214.04,485.30) scale(0.01260,0.12990)"/>
<use href="#gT" fill="#e8222a" transform="translate(226.65,600.60) scale(0.01260,0.01460)"/>
<use href="#gA" fill="#69bb45" transform="translate(226.65,533.20) scale(0.01260,0.06740)"/>
<use href="#gC" fill="#5fc1e2" transform="translate(239.26,610.30) scale(0.01260,0.00490)"/>
<use href="#gT" fill="#e8222a" transform="translate(239.26,503.40) scale(0.01260,0.10690)"/>
<use href="#gT" fill="#e8222a" transform="translate(251.87,613.50) scale(0.01260,0.00170)"/>
<use href="#gC" fill="#5fc1e2" transform="translate(251.87,611.50) scale(0.01260,0.00200)"/>
<use href="#gA" fill="#69bb45" transform="translate(251.87,600.60) scale(0.01260,0.01090)"/>
<use href="#gG" fill="#f5a91e" transform="translate(251.87,572.70) scale(0.01260,0.02790)"/>
<use href="#gC" fill="#5fc1e2" transform="translate(264.48,611.50) scale(0.01260,0.00370)"/>
<use href="#gG" fill="#f5a91e" transform="translate(264.48,600.60) scale(0.01260,0.01090)"/>
<use href="#gA" fill="#69bb45" transform="translate(264.48,555.30) scale(0.01260,0.04530)"/>
<use href="#gA" fill="#69bb45" transform="translate(277.09,611.50) scale(0.01260,0.00370)"/>
<use href="#gG" fill="#f5a91e" transform="translate(277.09,600.60) scale(0.01260,0.01090)"/>
<use href="#gT" fill="#e8222a" transform="translate(277.09,549.70) scale(0.01260,0.05090)"/>
<use href="#gT" fill="#e8222a" transform="translate(289.70,585.60) scale(0.01260,0.02960)"/>
<use href="#gA" fill="#69bb45" transform="translate(289.70,554.50) scale(0.01260,0.03110)"/>
<use href="#gT" fill="#e8222a" transform="translate(302.31,611.50) scale(0.01260,0.00370)"/>
<use href="#gC" fill="#5fc1e2" transform="translate(302.31,600.60) scale(0.01260,0.01090)"/>
<use href="#gA" fill="#69bb45" transform="translate(302.31,549.40) scale(0.01260,0.05120)"/>
<use href="#gG" fill="#f5a91e" transform="translate(314.92,611.50) scale(0.01260,0.00370)"/>
<use href="#gC" fill="#5fc1e2" transform="translate(314.92,600.60) scale(0.01260,0.01090)"/>
<use href="#gT" fill="#e8222a" transform="translate(314.92,553.70) scale(0.01260,0.04690)"/>
<use href="#gG" fill="#f5a91e" transform="translate(327.53,613.70) scale(0.01260,0.00150)"/>
<use href="#gA" fill="#69bb45" transform="translate(327.53,610.30) scale(0.01260,0.00340)"/>
<use href="#gT" fill="#e8222a" transform="translate(327.53,601.80) scale(0.01260,0.00850)"/>
<use href="#gC" fill="#5fc1e2" transform="translate(327.53,572.70) scale(0.01260,0.02910)"/>
<use href="#gG" fill="#f5a91e" transform="translate(340.14,610.30) scale(0.01260,0.00490)"/>
<use href="#gA" fill="#69bb45" transform="translate(340.14,503.40) scale(0.01260,0.10690)"/>
<use href="#gA" fill="#69bb45" transform="translate(352.75,600.60) scale(0.01260,0.01460)"/>
<use href="#gT" fill="#e8222a" transform="translate(352.75,532.70) scale(0.01260,0.06790)"/>
<use href="#gT" fill="#e8222a" transform="translate(365.36,485.60) scale(0.01260,0.12960)"/>
<use href="#gC" fill="#5fc1e2" transform="translate(377.97,613.70) scale(0.01260,0.00150)"/>
<use href="#gG" fill="#f5a91e" transform="translate(377.97,612.00) scale(0.01260,0.00170)"/>
<use href="#gT" fill="#e8222a" transform="translate(377.97,606.60) scale(0.01260,0.00540)"/>
<use href="#gA" fill="#69bb45" transform="translate(377.97,598.20) scale(0.01260,0.00840)"/>
<use href="#gA" fill="#69bb45" transform="translate(390.58,611.10) scale(0.01260,0.00410)"/>
<use href="#gC" fill="#5fc1e2" transform="translate(390.58,606.30) scale(0.01260,0.00480)"/>
<use href="#gT" fill="#e8222a" transform="translate(390.58,591.70) scale(0.01260,0.01460)"/>
<use href="#gC" fill="#5fc1e2" transform="translate(415.80,613.60) scale(0.01260,0.00160)"/>
<use href="#gT" fill="#e8222a" transform="translate(415.80,612.00) scale(0.01260,0.00160)"/>
<use href="#gG" fill="#f5a91e" transform="translate(415.80,606.30) scale(0.01260,0.00570)"/>
<use href="#gA" fill="#69bb45" transform="translate(415.80,595.70) scale(0.01260,0.01060)"/>
<use href="#gC" fill="#5fc1e2" transform="translate(428.41,612.00) scale(0.01260,0.00320)"/>
<use href="#gA" fill="#69bb45" transform="translate(428.41,599.80) scale(0.01260,0.01220)"/>
<use href="#gT" fill="#e8222a" transform="translate(428.41,581.10) scale(0.01260,0.01870)"/>
<use href="#gC" fill="#5fc1e2" transform="translate(441.02,612.00) scale(0.01260,0.00320)"/>
<use href="#gA" fill="#69bb45" transform="translate(441.02,599.80) scale(0.01260,0.01220)"/>
<use href="#gT" fill="#e8222a" transform="translate(441.02,579.30) scale(0.01260,0.02050)"/>
<use href="#gT" fill="#e8222a" transform="translate(453.63,613.70) scale(0.01260,0.00150)"/>
<use href="#gG" fill="#f5a91e" transform="translate(453.63,612.20) scale(0.01260,0.00150)"/>
<use href="#gA" fill="#69bb45" transform="translate(453.63,607.80) scale(0.01260,0.00440)"/>
<use href="#gC" fill="#5fc1e2" transform="translate(466.24,613.20) scale(0.01260,0.00200)"/>
<use href="#gG" fill="#f5a91e" transform="translate(466.24,604.80) scale(0.01260,0.00840)"/>
<use href="#gT" fill="#e8222a" transform="translate(466.24,591.60) scale(0.01260,0.01320)"/>
<use href="#gA" fill="#69bb45" transform="translate(478.85,608.60) scale(0.01260,0.00660)"/>
<use href="#gG" fill="#f5a91e" transform="translate(491.46,612.00) scale(0.01260,0.00320)"/>
<use href="#gT" fill="#e8222a" transform="translate(491.46,610.20) scale(0.01260,0.00180)"/>
<use href="#gC" fill="#5fc1e2" transform="translate(491.46,607.80) scale(0.01260,0.00240)"/>
<use href="#gA" fill="#69bb45" transform="translate(491.46,596.30) scale(0.01260,0.01150)"/>
<use href="#gA" fill="#69bb45" transform="translate(504.07,613.20) scale(0.01260,0.00200)"/>
<use href="#gT" fill="#e8222a" transform="translate(504.07,609.20) scale(0.01260,0.00400)"/>
<use href="#gA" fill="#69bb45" transform="translate(516.68,613.70) scale(0.01260,0.00150)"/>
<use href="#gT" fill="#e8222a" transform="translate(516.68,611.20) scale(0.01260,0.00250)"/>
<use href="#gT" fill="#e8222a" transform="translate(529.29,614.20) scale(0.01260,0.00100)"/>
<use href="#gA" fill="#69bb45" transform="translate(529.29,611.20) scale(0.01260,0.00300)"/>
<use href="#gG" fill="#f5a91e" transform="translate(541.90,614.40) scale(0.01260,0.00080)"/>
<g stroke="#000" stroke-opacity="0.8" stroke-width="1">
<line x1="43.80" y1="609.50" x2="43.80" y2="621.20"/>
<line x1="40.60" y1="609.50" x2="47.00" y2="609.50" stroke-width="1.2"/>
<line x1="40.60" y1="621.20" x2="47.00" y2="621.20" stroke-width="1.2"/>
<line x1="56.41" y1="605.30" x2="56.41" y2="617.10"/>
<line x1="53.21" y1="605.30" x2="59.61" y2="605.30" stroke-width="1.2"/>
<line x1="53.21" y1="617.10" x2="59.61" y2="617.10" stroke-width="1.2"/>
<line x1="69.02" y1="605.30" x2="69.02" y2="617.10"/>
<line x1="65.82" y1="605.30" x2="72.22" y2="605.30" stroke-width="1.2"/>
<line x1="65.82" y1="617.10" x2="72.22" y2="617.10" stroke-width="1.2"/>
<line x1="81.63" y1="603.00" x2="81.63" y2="614.70"/>
<line x1="78.43" y1="603.00" x2="84.83" y2="603.00" stroke-width="1.2"/>
<line x1="78.43" y1="614.70" x2="84.83" y2="614.70" stroke-width="1.2"/>
<line x1="94.24" y1="590.30" x2="94.24" y2="602.50"/>
<line x1="91.04" y1="590.30" x2="97.44" y2="590.30" stroke-width="1.2"/>
<line x1="91.04" y1="602.50" x2="97.44" y2="602.50" stroke-width="1.2"/>
<line x1="106.85" y1="602.20" x2="106.85" y2="614.40"/>
<line x1="103.65" y1="602.20" x2="110.05" y2="602.20" stroke-width="1.2"/>
<line x1="103.65" y1="614.40" x2="110.05" y2="614.40" stroke-width="1.2"/>
<line x1="119.46" y1="586.00" x2="119.46" y2="598.10"/>
<line x1="116.26" y1="586.00" x2="122.66" y2="586.00" stroke-width="1.2"/>
<line x1="116.26" y1="598.10" x2="122.66" y2="598.10" stroke-width="1.2"/>
<line x1="132.07" y1="601.40" x2="132.07" y2="613.60"/>
<line x1="128.87" y1="601.40" x2="135.27" y2="601.40" stroke-width="1.2"/>
<line x1="128.87" y1="613.60" x2="135.27" y2="613.60" stroke-width="1.2"/>
<line x1="144.68" y1="573.30" x2="144.68" y2="585.20"/>
<line x1="141.48" y1="573.30" x2="147.88" y2="573.30" stroke-width="1.2"/>
<line x1="141.48" y1="585.20" x2="147.88" y2="585.20" stroke-width="1.2"/>
<line x1="157.29" y1="574.30" x2="157.29" y2="586.00"/>
<line x1="154.09" y1="574.30" x2="160.49" y2="574.30" stroke-width="1.2"/>
<line x1="154.09" y1="586.00" x2="160.49" y2="586.00" stroke-width="1.2"/>
<line x1="169.90" y1="590.00" x2="169.90" y2="602.20"/>
<line x1="166.70" y1="590.00" x2="173.10" y2="590.00" stroke-width="1.2"/>
<line x1="166.70" y1="602.20" x2="173.10" y2="602.20" stroke-width="1.2"/>
<line x1="182.51" y1="609.50" x2="182.51" y2="621.40"/>
<line x1="179.31" y1="609.50" x2="185.71" y2="609.50" stroke-width="1.2"/>
<line x1="179.31" y1="621.40" x2="185.71" y2="621.40" stroke-width="1.2"/>
<line x1="195.12" y1="585.20" x2="195.12" y2="597.30"/>
<line x1="191.92" y1="585.20" x2="198.32" y2="585.20" stroke-width="1.2"/>
<line x1="191.92" y1="597.30" x2="198.32" y2="597.30" stroke-width="1.2"/>
<line x1="207.73" y1="592.50" x2="207.73" y2="604.40"/>
<line x1="204.53" y1="592.50" x2="210.93" y2="592.50" stroke-width="1.2"/>
<line x1="204.53" y1="604.40" x2="210.93" y2="604.40" stroke-width="1.2"/>
<line x1="220.34" y1="477.70" x2="220.34" y2="489.30"/>
<line x1="217.14" y1="477.70" x2="223.54" y2="477.70" stroke-width="1.2"/>
<line x1="217.14" y1="489.30" x2="223.54" y2="489.30" stroke-width="1.2"/>
<line x1="232.95" y1="525.60" x2="232.95" y2="537.70"/>
<line x1="229.75" y1="525.60" x2="236.15" y2="525.60" stroke-width="1.2"/>
<line x1="229.75" y1="537.70" x2="236.15" y2="537.70" stroke-width="1.2"/>
<line x1="245.56" y1="496.60" x2="245.56" y2="508.20"/>
<line x1="242.36" y1="496.60" x2="248.76" y2="496.60" stroke-width="1.2"/>
<line x1="242.36" y1="508.20" x2="248.76" y2="508.20" stroke-width="1.2"/>
<line x1="258.17" y1="566.30" x2="258.17" y2="577.60"/>
<line x1="254.97" y1="566.30" x2="261.37" y2="566.30" stroke-width="1.2"/>
<line x1="254.97" y1="577.60" x2="261.37" y2="577.60" stroke-width="1.2"/>
<line x1="270.78" y1="546.90" x2="270.78" y2="558.30"/>
<line x1="267.58" y1="546.90" x2="273.98" y2="546.90" stroke-width="1.2"/>
<line x1="267.58" y1="558.30" x2="273.98" y2="558.30" stroke-width="1.2"/>
<line x1="283.39" y1="542.60" x2="283.39" y2="554.60"/>
<line x1="280.19" y1="542.60" x2="286.59" y2="542.60" stroke-width="1.2"/>
<line x1="280.19" y1="554.60" x2="286.59" y2="554.60" stroke-width="1.2"/>
<line x1="296.00" y1="547.40" x2="296.00" y2="559.50"/>
<line x1="292.80" y1="547.40" x2="299.20" y2="547.40" stroke-width="1.2"/>
<line x1="292.80" y1="559.50" x2="299.20" y2="559.50" stroke-width="1.2"/>
<line x1="308.61" y1="542.00" x2="308.61" y2="554.60"/>
<line x1="305.41" y1="542.00" x2="311.81" y2="542.00" stroke-width="1.2"/>
<line x1="305.41" y1="554.60" x2="311.81" y2="554.60" stroke-width="1.2"/>
<line x1="321.22" y1="546.90" x2="321.22" y2="558.30"/>
<line x1="318.02" y1="546.90" x2="324.42" y2="546.90" stroke-width="1.2"/>
<line x1="318.02" y1="558.30" x2="324.42" y2="558.30" stroke-width="1.2"/>
<line x1="333.83" y1="565.50" x2="333.83" y2="577.60"/>
<line x1="330.63" y1="565.50" x2="337.03" y2="565.50" stroke-width="1.2"/>
<line x1="330.63" y1="577.60" x2="337.03" y2="577.60" stroke-width="1.2"/>
<line x1="346.44" y1="496.10" x2="346.44" y2="508.20"/>
<line x1="343.24" y1="496.10" x2="349.64" y2="496.10" stroke-width="1.2"/>
<line x1="343.24" y1="508.20" x2="349.64" y2="508.20" stroke-width="1.2"/>
<line x1="359.05" y1="525.60" x2="359.05" y2="537.70"/>
<line x1="355.85" y1="525.60" x2="362.25" y2="525.60" stroke-width="1.2"/>
<line x1="355.85" y1="537.70" x2="362.25" y2="537.70" stroke-width="1.2"/>
<line x1="371.66" y1="478.50" x2="371.66" y2="490.60"/>
<line x1="368.46" y1="478.50" x2="374.86" y2="478.50" stroke-width="1.2"/>
<line x1="368.46" y1="490.60" x2="374.86" y2="490.60" stroke-width="1.2"/>
<line x1="384.27" y1="592.50" x2="384.27" y2="603.80"/>
<line x1="381.07" y1="592.50" x2="387.47" y2="592.50" stroke-width="1.2"/>
<line x1="381.07" y1="603.80" x2="387.47" y2="603.80" stroke-width="1.2"/>
<line x1="396.88" y1="585.20" x2="396.88" y2="597.30"/>
<line x1="393.68" y1="585.20" x2="400.08" y2="585.20" stroke-width="1.2"/>
<line x1="393.68" y1="597.30" x2="400.08" y2="597.30" stroke-width="1.2"/>
<line x1="409.49" y1="609.50" x2="409.49" y2="621.40"/>
<line x1="406.29" y1="609.50" x2="412.69" y2="609.50" stroke-width="1.2"/>
<line x1="406.29" y1="621.40" x2="412.69" y2="621.40" stroke-width="1.2"/>
<line x1="422.10" y1="590.00" x2="422.10" y2="601.40"/>
<line x1="418.90" y1="590.00" x2="425.30" y2="590.00" stroke-width="1.2"/>
<line x1="418.90" y1="601.40" x2="425.30" y2="601.40" stroke-width="1.2"/>
<line x1="434.71" y1="574.60" x2="434.71" y2="586.80"/>
<line x1="431.51" y1="574.60" x2="437.91" y2="574.60" stroke-width="1.2"/>
<line x1="431.51" y1="586.80" x2="437.91" y2="586.80" stroke-width="1.2"/>
<line x1="447.32" y1="573.30" x2="447.32" y2="585.20"/>
<line x1="444.12" y1="573.30" x2="450.52" y2="573.30" stroke-width="1.2"/>
<line x1="444.12" y1="585.20" x2="450.52" y2="585.20" stroke-width="1.2"/>
<line x1="459.93" y1="601.90" x2="459.93" y2="613.60"/>
<line x1="456.73" y1="601.90" x2="463.13" y2="601.90" stroke-width="1.2"/>
<line x1="456.73" y1="613.60" x2="463.13" y2="613.60" stroke-width="1.2"/>
<line x1="472.54" y1="586.50" x2="472.54" y2="598.60"/>
<line x1="469.34" y1="586.50" x2="475.74" y2="586.50" stroke-width="1.2"/>
<line x1="469.34" y1="598.60" x2="475.74" y2="598.60" stroke-width="1.2"/>
<line x1="485.15" y1="602.40" x2="485.15" y2="614.30"/>
<line x1="481.95" y1="602.40" x2="488.35" y2="602.40" stroke-width="1.2"/>
<line x1="481.95" y1="614.30" x2="488.35" y2="614.30" stroke-width="1.2"/>
<line x1="497.76" y1="590.60" x2="497.76" y2="602.40"/>
<line x1="494.56" y1="590.60" x2="500.96" y2="590.60" stroke-width="1.2"/>
<line x1="494.56" y1="602.40" x2="500.96" y2="602.40" stroke-width="1.2"/>
<line x1="510.37" y1="603.20" x2="510.37" y2="614.80"/>
<line x1="507.17" y1="603.20" x2="513.57" y2="603.20" stroke-width="1.2"/>
<line x1="507.17" y1="614.80" x2="513.57" y2="614.80" stroke-width="1.2"/>
<line x1="522.98" y1="605.50" x2="522.98" y2="617.10"/>
<line x1="519.78" y1="605.50" x2="526.18" y2="605.50" stroke-width="1.2"/>
<line x1="519.78" y1="617.10" x2="526.18" y2="617.10" stroke-width="1.2"/>
<line x1="535.59" y1="605.50" x2="535.59" y2="617.10"/>
<line x1="532.39" y1="605.50" x2="538.79" y2="605.50" stroke-width="1.2"/>
<line x1="532.39" y1="617.10" x2="538.79" y2="617.10" stroke-width="1.2"/>
<line x1="548.20" y1="609.40" x2="548.20" y2="621.00"/>
<line x1="545.00" y1="609.40" x2="551.40" y2="609.40" stroke-width="1.2"/>
<line x1="545.00" y1="621.00" x2="551.40" y2="621.00" stroke-width="1.2"/>
</g>
<g font-family="Liberation Sans, sans-serif" font-size="10.4" fill="#111" stroke="#111" stroke-width="0.3">
<text transform="translate(48.80,629.00) rotate(-90)" text-anchor="middle">20</text>
<rect x="44.90" y="635.78" width="1.1" height="5.1" stroke="none"/>
<text transform="translate(61.41,629.00) rotate(-90)" text-anchor="middle">19</text>
<rect x="57.51" y="635.78" width="1.1" height="5.1" stroke="none"/>
<text transform="translate(74.02,629.00) rotate(-90)" text-anchor="middle">18</text>
<rect x="70.12" y="635.78" width="1.1" height="5.1" stroke="none"/>
<text transform="translate(86.63,629.00) rotate(-90)" text-anchor="middle">17</text>
<rect x="82.73" y="635.78" width="1.1" height="5.1" stroke="none"/>
<text transform="translate(99.24,629.00) rotate(-90)" text-anchor="middle">16</text>
<rect x="95.34" y="635.78" width="1.1" height="5.1" stroke="none"/>
<text transform="translate(111.85,629.00) rotate(-90)" text-anchor="middle">15</text>
<rect x="107.95" y="635.78" width="1.1" height="5.1" stroke="none"/>
<text transform="translate(124.46,629.00) rotate(-90)" text-anchor="middle">14</text>
<rect x="120.56" y="635.78" width="1.1" height="5.1" stroke="none"/>
<text transform="translate(137.07,629.00) rotate(-90)" text-anchor="middle">13</text>
<rect x="133.17" y="635.78" width="1.1" height="5.1" stroke="none"/>
<text transform="translate(149.68,629.00) rotate(-90)" text-anchor="middle">12</text>
<rect x="145.78" y="635.78" width="1.1" height="5.1" stroke="none"/>
<text transform="translate(162.29,629.00) rotate(-90)" text-anchor="middle">11</text>
<rect x="158.39" y="635.78" width="1.1" height="5.1" stroke="none"/>
<text transform="translate(174.90,629.00) rotate(-90)" text-anchor="middle">10</text>
<rect x="171.00" y="635.78" width="1.1" height="5.1" stroke="none"/>
<text transform="translate(187.51,629.00) rotate(-90)" text-anchor="middle">9</text>
<rect x="183.61" y="632.89" width="1.1" height="5.1" stroke="none"/>
<text transform="translate(200.12,629.00) rotate(-90)" text-anchor="middle">8</text>
<rect x="196.22" y="632.89" width="1.1" height="5.1" stroke="none"/>
<text transform="translate(212.73,629.00) rotate(-90)" text-anchor="middle">7</text>
<rect x="208.83" y="632.89" width="1.1" height="5.1" stroke="none"/>
<text transform="translate(225.34,629.00) rotate(-90)" text-anchor="middle">6</text>
<rect x="221.44" y="632.89" width="1.1" height="5.1" stroke="none"/>
<text transform="translate(237.95,629.00) rotate(-90)" text-anchor="middle">5</text>
<rect x="234.05" y="632.89" width="1.1" height="5.1" stroke="none"/>
<text transform="translate(250.56,629.00) rotate(-90)" text-anchor="middle">4</text>
<rect x="246.66" y="632.89" width="1.1" height="5.1" stroke="none"/>
<text transform="translate(263.17,629.00) rotate(-90)" text-anchor="middle">3</text>
<rect x="259.27" y="632.89" width="1.1" height="5.1" stroke="none"/>
<text transform="translate(275.78,629.00) rotate(-90)" text-anchor="middle">2</text>
<rect x="271.88" y="632.89" width="1.1" height="5.1" stroke="none"/>
<text transform="translate(288.39,629.00) rotate(-90)" text-anchor="middle">1</text>
<rect x="284.49" y="632.89" width="1.1" height="5.1" stroke="none"/>
<text transform="translate(301.00,629.00) rotate(-90)" text-anchor="middle">0</text>
<text transform="translate(313.61,629.00) rotate(-90)" text-anchor="middle">1</text>
<text transform="translate(326.22,629.00) rotate(-90)" text-anchor="middle">2</text>
<text transform="translate(338.83,629.00) rotate(-90)" text-anchor="middle">3</text>
<text transform="translate(351.44,629.00) rotate(-90)" text-anchor="middle">4</text>
<text transform="translate(364.05,629.00) rotate(-90)" text-anchor="middle">5</text>
<text transform="translate(376.66,629.00) rotate(-90)" text-anchor="middle">6</text>
<text transform="translate(389.27,629.00) rotate(-90)" text-anchor="middle">7</text>
<text transform="translate(401.88,629.00) rotate(-90)" text-anchor="middle">8</text>
<text transform="translate(414.49,629.00) rotate(-90)" text-anchor="middle">9</text>
<text transform="translate(427.10,629.00) rotate(-90)" text-anchor="middle">10</text>
<text transform="translate(439.71,629.00) rotate(-90)" text-anchor="middle">11</text>
<text transform="translate(452.32,629.00) rotate(-90)" text-anchor="middle">12</text>
<text transform="translate(464.93,629.00) rotate(-90)" text-anchor="middle">13</text>
<text transform="translate(477.54,629.00) rotate(-90)" text-anchor="middle">14</text>
<text transform="translate(490.15,629.00) rotate(-90)" text-anchor="middle">15</text>
<text transform="translate(502.76,629.00) rotate(-90)" text-anchor="middle">16</text>
<text transform="translate(515.37,629.00) rotate(-90)" text-anchor="middle">17</text>
<text transform="translate(527.98,629.00) rotate(-90)" text-anchor="middle">18</text>
<text transform="translate(540.59,629.00) rotate(-90)" text-anchor="middle">19</text>
<text transform="translate(553.20,629.00) rotate(-90)" text-anchor="middle">20</text>
</g>
<text x="24.5" y="634.20" font-family="Liberation Sans, sans-serif" font-size="10" stroke="#000" stroke-width="0.3">5<tspan dx="1.2">′</tspan></text>
<text x="558.5" y="634.20" font-family="Liberation Sans, sans-serif" font-size="10" stroke="#000" stroke-width="0.3">3<tspan dx="1.2">′</tspan></text>
<line x1="556" y1="476.60" x2="556" y2="615.20" stroke="#111" stroke-width="2.1"/>
<text x="570.5" y="516.60" font-family="Liberation Serif, serif" font-weight="bold" font-size="10.5">M6</text>
<text x="570.5" y="529.00" font-family="Liberation Serif, serif" font-weight="bold" font-size="10.5">15.4 bits</text>
<text x="570.5" y="541.40" font-family="Liberation Serif, serif" font-weight="bold" font-size="10.5">(–6, +6)</text>
<g fill="#66b245">
<rect x="140.1" y="2.90" width="10.8" height="2.3"/><rect x="140.1" y="7.40" width="10.8" height="2.3"/>
<rect x="153.1" y="2.90" width="10.8" height="2.3"/><rect x="153.1" y="7.40" width="10.8" height="2.3"/>
<rect x="166.1" y="2.90" width="10.8" height="2.3"/><rect x="166.1" y="7.40" width="10.8" height="2.3"/>
<rect x="179.1" y="2.90" width="10.8" height="2.3"/><rect x="179.1" y="7.40" width="10.8" height="2.3"/>
<rect x="192.1" y="2.90" width="10.8" height="2.3"/><rect x="192.1" y="7.40" width="10.8" height="2.3"/>
<rect x="205.1" y="2.90" width="10.8" height="2.3"/><rect x="205.1" y="7.40" width="10.8" height="2.3"/>
<rect x="218.1" y="2.90" width="10.8" height="2.3"/><rect x="218.1" y="7.40" width="10.8" height="2.3"/>
<rect x="231.1" y="2.90" width="10.8" height="2.3"/><rect x="231.1" y="7.40" width="10.8" height="2.3"/>
<rect x="244.1" y="2.90" width="10.8" height="2.3"/><rect x="244.1" y="7.40" width="10.8" height="2.3"/>
<rect x="257.1" y="2.90" width="10.8" height="2.3"/><rect x="257.1" y="7.40" width="10.8" height="2.3"/>
<rect x="270.1" y="2.90" width="10.8" height="2.3"/><rect x="270.1" y="7.40" width="10.8" height="2.3"/>
<use href="#gGT" transform="translate(283.10,0.70) scale(0.0108,0.0112)"/>
<path fill-rule="evenodd" d="M295.80,6.60a6.1,6.1 0 1,0 12.2,0a6.1,6.1 0 1,0 -12.2,0ZM299.20,6.60a2.7,3.7 0 1,0 5.4,0a2.7,3.7 0 1,0 -5.4,0Z"/>
<use href="#gLT" transform="translate(309.40,0.70) scale(0.0108,0.0112)"/>
<rect x="322.1" y="2.90" width="10.8" height="2.3"/><rect x="322.1" y="7.40" width="10.8" height="2.3"/>
<rect x="335.1" y="2.90" width="10.8" height="2.3"/><rect x="335.1" y="7.40" width="10.8" height="2.3"/>
<rect x="348.1" y="2.90" width="10.8" height="2.3"/><rect x="348.1" y="7.40" width="10.8" height="2.3"/>
<rect x="361.1" y="2.90" width="10.8" height="2.3"/><rect x="361.1" y="7.40" width="10.8" height="2.3"/>
<rect x="374.1" y="2.90" width="10.8" height="2.3"/><rect x="374.1" y="7.40" width="10.8" height="2.3"/>
<rect x="387.1" y="2.90" width="10.8" height="2.3"/><rect x="387.1" y="7.40" width="10.8" height="2.3"/>
<rect x="400.1" y="2.90" width="10.8" height="2.3"/><rect x="400.1" y="7.40" width="10.8" height="2.3"/>
<rect x="413.1" y="2.90" width="10.8" height="2.3"/><rect x="413.1" y="7.40" width="10.8" height="2.3"/>
<rect x="426.1" y="2.90" width="10.8" height="2.3"/><rect x="426.1" y="7.40" width="10.8" height="2.3"/>
<rect x="439.1" y="2.90" width="10.8" height="2.3"/><rect x="439.1" y="7.40" width="10.8" height="2.3"/>
<rect x="452.1" y="2.90" width="10.8" height="2.3"/><rect x="452.1" y="7.40" width="10.8" height="2.3"/>
</g>
<g fill="#d2232c">
<rect x="140.1" y="182.15" width="10.8" height="2.3"/><rect x="140.1" y="186.65" width="10.8" height="2.3"/>
<rect x="153.1" y="182.15" width="10.8" height="2.3"/><rect x="153.1" y="186.65" width="10.8" height="2.3"/>
<rect x="166.1" y="182.15" width="10.8" height="2.3"/><rect x="166.1" y="186.65" width="10.8" height="2.3"/>
<rect x="179.1" y="182.15" width="10.8" height="2.3"/><rect x="179.1" y="186.65" width="10.8" height="2.3"/>
<rect x="192.1" y="182.15" width="10.8" height="2.3"/><rect x="192.1" y="186.65" width="10.8" height="2.3"/>
<rect x="205.1" y="182.15" width="10.8" height="2.3"/><rect x="205.1" y="186.65" width="10.8" height="2.3"/>
<rect x="218.1" y="182.15" width="10.8" height="2.3"/><rect x="218.1" y="186.65" width="10.8" height="2.3"/>
<rect x="231.1" y="182.15" width="10.8" height="2.3"/><rect x="231.1" y="186.65" width="10.8" height="2.3"/>
<use href="#gGT" transform="translate(244.10,179.95) scale(0.0108,0.0112)"/>
<path fill-rule="evenodd" d="M256.80,185.85a6.1,6.1 0 1,0 12.2,0a6.1,6.1 0 1,0 -12.2,0ZM260.20,185.85a2.7,3.7 0 1,0 5.4,0a2.7,3.7 0 1,0 -5.4,0Z"/>
<use href="#gLT" transform="translate(270.40,179.95) scale(0.0108,0.0112)"/>
<rect x="283.1" y="182.15" width="10.8" height="2.3"/><rect x="283.1" y="186.65" width="10.8" height="2.3"/>
<rect x="296.1" y="182.15" width="10.8" height="2.3"/><rect x="296.1" y="186.65" width="10.8" height="2.3"/>
<rect x="309.1" y="182.15" width="10.8" height="2.3"/><rect x="309.1" y="186.65" width="10.8" height="2.3"/>
<rect x="322.1" y="182.15" width="10.8" height="2.3"/><rect x="322.1" y="186.65" width="10.8" height="2.3"/>
<rect x="335.1" y="182.15" width="10.8" height="2.3"/><rect x="335.1" y="186.65" width="10.8" height="2.3"/>
<rect x="348.1" y="182.15" width="10.8" height="2.3"/><rect x="348.1" y="186.65" width="10.8" height="2.3"/>
<rect x="361.1" y="182.15" width="10.8" height="2.3"/><rect x="361.1" y="186.65" width="10.8" height="2.3"/>
<rect x="374.1" y="182.15" width="10.8" height="2.3"/><rect x="374.1" y="186.65" width="10.8" height="2.3"/>
</g>
<g fill="#d2232c">
<rect x="215.7" y="197.00" width="10.8" height="2.3"/><rect x="215.7" y="201.50" width="10.8" height="2.3"/>
<rect x="228.7" y="197.00" width="10.8" height="2.3"/><rect x="228.7" y="201.50" width="10.8" height="2.3"/>
<rect x="241.7" y="197.00" width="10.8" height="2.3"/><rect x="241.7" y="201.50" width="10.8" height="2.3"/>
<rect x="254.7" y="197.00" width="10.8" height="2.3"/><rect x="254.7" y="201.50" width="10.8" height="2.3"/>
<rect x="267.7" y="197.00" width="10.8" height="2.3"/><rect x="267.7" y="201.50" width="10.8" height="2.3"/>
<rect x="280.7" y="197.00" width="10.8" height="2.3"/><rect x="280.7" y="201.50" width="10.8" height="2.3"/>
<rect x="293.7" y="197.00" width="10.8" height="2.3"/><rect x="293.7" y="201.50" width="10.8" height="2.3"/>
<rect x="306.7" y="197.00" width="10.8" height="2.3"/><rect x="306.7" y="201.50" width="10.8" height="2.3"/>
<use href="#gGT" transform="translate(319.70,194.80) scale(0.0108,0.0112)"/>
<path fill-rule="evenodd" d="M332.40,200.70a6.1,6.1 0 1,0 12.2,0a6.1,6.1 0 1,0 -12.2,0ZM335.80,200.70a2.7,3.7 0 1,0 5.4,0a2.7,3.7 0 1,0 -5.4,0Z"/>
<use href="#gLT" transform="translate(346.00,194.80) scale(0.0108,0.0112)"/>
<rect x="358.7" y="197.00" width="10.8" height="2.3"/><rect x="358.7" y="201.50" width="10.8" height="2.3"/>
<rect x="371.7" y="197.00" width="10.8" height="2.3"/><rect x="371.7" y="201.50" width="10.8" height="2.3"/>
<rect x="384.7" y="197.00" width="10.8" height="2.3"/><rect x="384.7" y="201.50" width="10.8" height="2.3"/>
<rect x="397.7" y="197.00" width="10.8" height="2.3"/><rect x="397.7" y="201.50" width="10.8" height="2.3"/>
<rect x="410.7" y="197.00" width="10.8" height="2.3"/><rect x="410.7" y="201.50" width="10.8" height="2.3"/>
<rect x="423.7" y="197.00" width="10.8" height="2.3"/><rect x="423.7" y="201.50" width="10.8" height="2.3"/>
<rect x="436.7" y="197.00" width="10.8" height="2.3"/><rect x="436.7" y="201.50" width="10.8" height="2.3"/>
<rect x="449.7" y="197.00" width="10.8" height="2.3"/><rect x="449.7" y="201.50" width="10.8" height="2.3"/>
</g>
<g fill="#d2232c">
<rect x="178.1" y="232.95" width="10.8" height="2.3"/><rect x="178.1" y="237.45" width="10.8" height="2.3"/>
<rect x="191.1" y="232.95" width="10.8" height="2.3"/><rect x="191.1" y="237.45" width="10.8" height="2.3"/>
<rect x="204.1" y="232.95" width="10.8" height="2.3"/><rect x="204.1" y="237.45" width="10.8" height="2.3"/>
<rect x="217.1" y="232.95" width="10.8" height="2.3"/><rect x="217.1" y="237.45" width="10.8" height="2.3"/>
<rect x="230.1" y="232.95" width="10.8" height="2.3"/><rect x="230.1" y="237.45" width="10.8" height="2.3"/>
<rect x="243.1" y="232.95" width="10.8" height="2.3"/><rect x="243.1" y="237.45" width="10.8" height="2.3"/>
<rect x="256.1" y="232.95" width="10.8" height="2.3"/><rect x="256.1" y="237.45" width="10.8" height="2.3"/>
<rect x="269.1" y="232.95" width="10.8" height="2.3"/><rect x="269.1" y="237.45" width="10.8" height="2.3"/>
<use href="#gGT" transform="translate(282.10,230.75) scale(0.0108,0.0112)"/>
<path fill-rule="evenodd" d="M294.80,236.65a6.1,6.1 0 1,0 12.2,0a6.1,6.1 0 1,0 -12.2,0ZM298.20,236.65a2.7,3.7 0 1,0 5.4,0a2.7,3.7 0 1,0 -5.4,0Z"/>
<use href="#gLT" transform="translate(308.40,230.75) scale(0.0108,0.0112)"/>
<rect x="321.1" y="232.95" width="10.8" height="2.3"/><rect x="321.1" y="237.45" width="10.8" height="2.3"/>
<rect x="334.1" y="232.95" width="10.8" height="2.3"/><rect x="334.1" y="237.45" width="10.8" height="2.3"/>
<rect x="347.1" y="232.95" width="10.8" height="2.3"/><rect x="347.1" y="237.45" width="10.8" height="2.3"/>
<rect x="360.1" y="232.95" width="10.8" height="2.3"/><rect x="360.1" y="237.45" width="10.8" height="2.3"/>
<rect x="373.1" y="232.95" width="10.8" height="2.3"/><rect x="373.1" y="237.45" width="10.8" height="2.3"/>
<rect x="386.1" y="232.95" width="10.8" height="2.3"/><rect x="386.1" y="237.45" width="10.8" height="2.3"/>
<rect x="399.1" y="232.95" width="10.8" height="2.3"/><rect x="399.1" y="237.45" width="10.8" height="2.3"/>
<rect x="412.1" y="232.95" width="10.8" height="2.3"/><rect x="412.1" y="237.45" width="10.8" height="2.3"/>
</g>
<g fill="#3d5aa6">
<rect x="178.1" y="410.65" width="10.8" height="2.3"/><rect x="178.1" y="415.15" width="10.8" height="2.3"/>
<rect x="191.1" y="410.65" width="10.8" height="2.3"/><rect x="191.1" y="415.15" width="10.8" height="2.3"/>
<rect x="204.1" y="410.65" width="10.8" height="2.3"/><rect x="204.1" y="415.15" width="10.8" height="2.3"/>
<rect x="217.1" y="410.65" width="10.8" height="2.3"/><rect x="217.1" y="415.15" width="10.8" height="2.3"/>
<rect x="230.1" y="410.65" width="10.8" height="2.3"/><rect x="230.1" y="415.15" width="10.8" height="2.3"/>
<use href="#gGT" transform="translate(243.10,408.45) scale(0.0108,0.0112)"/>
<path fill-rule="evenodd" d="M255.80,414.35a6.1,6.1 0 1,0 12.2,0a6.1,6.1 0 1,0 -12.2,0ZM259.20,414.35a2.7,3.7 0 1,0 5.4,0a2.7,3.7 0 1,0 -5.4,0Z"/>
<use href="#gLT" transform="translate(269.40,408.45) scale(0.0108,0.0112)"/>
<rect x="282.1" y="410.65" width="10.8" height="2.3"/><rect x="282.1" y="415.15" width="10.8" height="2.3"/>
<rect x="295.1" y="410.65" width="10.8" height="2.3"/><rect x="295.1" y="415.15" width="10.8" height="2.3"/>
<rect x="308.1" y="410.65" width="10.8" height="2.3"/><rect x="308.1" y="415.15" width="10.8" height="2.3"/>
<rect x="321.1" y="410.65" width="10.8" height="2.3"/><rect x="321.1" y="415.15" width="10.8" height="2.3"/>
<rect x="334.1" y="410.65" width="10.8" height="2.3"/><rect x="334.1" y="415.15" width="10.8" height="2.3"/>
</g>
<g fill="#3d5aa6">
<rect x="252.8" y="425.45" width="10.8" height="2.3"/><rect x="252.8" y="429.95" width="10.8" height="2.3"/>
<rect x="265.8" y="425.45" width="10.8" height="2.3"/><rect x="265.8" y="429.95" width="10.8" height="2.3"/>
<rect x="278.8" y="425.45" width="10.8" height="2.3"/><rect x="278.8" y="429.95" width="10.8" height="2.3"/>
<rect x="291.8" y="425.45" width="10.8" height="2.3"/><rect x="291.8" y="429.95" width="10.8" height="2.3"/>
<rect x="304.8" y="425.45" width="10.8" height="2.3"/><rect x="304.8" y="429.95" width="10.8" height="2.3"/>
<use href="#gGT" transform="translate(317.80,423.25) scale(0.0108,0.0112)"/>
<path fill-rule="evenodd" d="M330.50,429.15a6.1,6.1 0 1,0 12.2,0a6.1,6.1 0 1,0 -12.2,0ZM333.90,429.15a2.7,3.7 0 1,0 5.4,0a2.7,3.7 0 1,0 -5.4,0Z"/>
<use href="#gLT" transform="translate(344.10,423.25) scale(0.0108,0.0112)"/>
<rect x="356.8" y="425.45" width="10.8" height="2.3"/><rect x="356.8" y="429.95" width="10.8" height="2.3"/>
<rect x="369.8" y="425.45" width="10.8" height="2.3"/><rect x="369.8" y="429.95" width="10.8" height="2.3"/>
<rect x="382.8" y="425.45" width="10.8" height="2.3"/><rect x="382.8" y="429.95" width="10.8" height="2.3"/>
<rect x="395.8" y="425.45" width="10.8" height="2.3"/><rect x="395.8" y="429.95" width="10.8" height="2.3"/>
<rect x="408.8" y="425.45" width="10.8" height="2.3"/><rect x="408.8" y="429.95" width="10.8" height="2.3"/>
</g>
<g fill="#3d5aa6">
<rect x="216.5" y="464.55" width="10.8" height="2.3"/><rect x="216.5" y="469.05" width="10.8" height="2.3"/>
<rect x="229.5" y="464.55" width="10.8" height="2.3"/><rect x="229.5" y="469.05" width="10.8" height="2.3"/>
<rect x="242.5" y="464.55" width="10.8" height="2.3"/><rect x="242.5" y="469.05" width="10.8" height="2.3"/>
<rect x="255.5" y="464.55" width="10.8" height="2.3"/><rect x="255.5" y="469.05" width="10.8" height="2.3"/>
<rect x="268.5" y="464.55" width="10.8" height="2.3"/><rect x="268.5" y="469.05" width="10.8" height="2.3"/>
<use href="#gGT" transform="translate(281.50,462.35) scale(0.0108,0.0112)"/>
<path fill-rule="evenodd" d="M294.20,468.25a6.1,6.1 0 1,0 12.2,0a6.1,6.1 0 1,0 -12.2,0ZM297.60,468.25a2.7,3.7 0 1,0 5.4,0a2.7,3.7 0 1,0 -5.4,0Z"/>
<use href="#gLT" transform="translate(307.80,462.35) scale(0.0108,0.0112)"/>
<rect x="320.5" y="464.55" width="10.8" height="2.3"/><rect x="320.5" y="469.05" width="10.8" height="2.3"/>
<rect x="333.5" y="464.55" width="10.8" height="2.3"/><rect x="333.5" y="469.05" width="10.8" height="2.3"/>
<rect x="346.5" y="464.55" width="10.8" height="2.3"/><rect x="346.5" y="469.05" width="10.8" height="2.3"/>
<rect x="359.5" y="464.55" width="10.8" height="2.3"/><rect x="359.5" y="469.05" width="10.8" height="2.3"/>
<rect x="372.5" y="464.55" width="10.8" height="2.3"/><rect x="372.5" y="469.05" width="10.8" height="2.3"/>
</g>
<rect x="44.7" y="192.4" width="5.9" height="1" fill="#777"/>
</svg></body></html>
